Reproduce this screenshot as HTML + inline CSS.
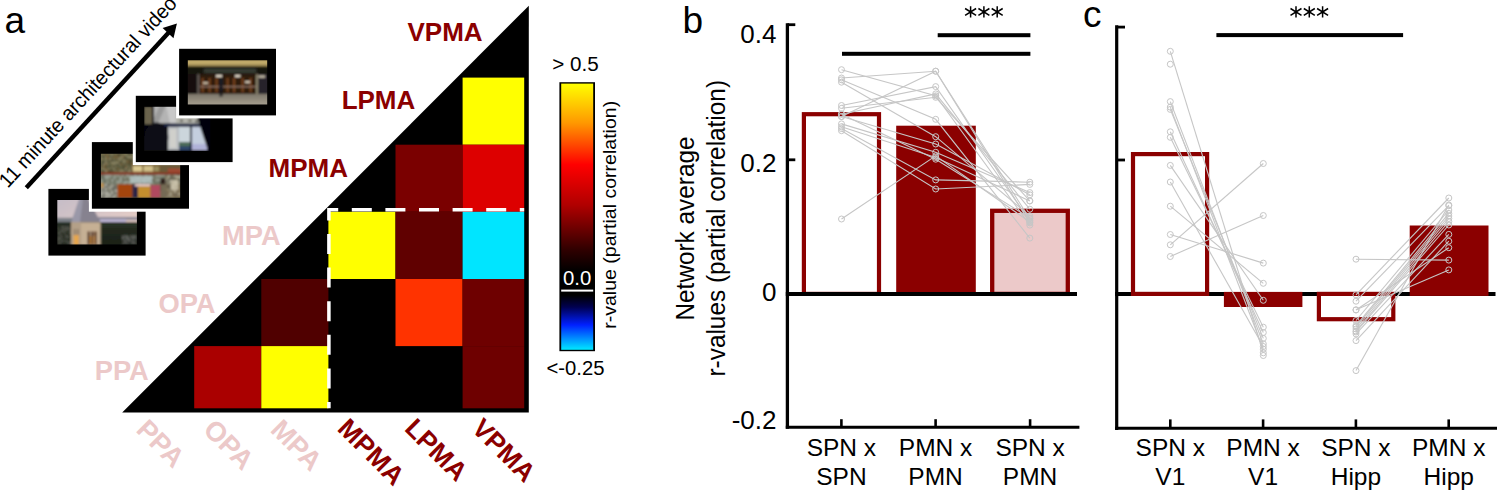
<!DOCTYPE html><html><head><meta charset="utf-8"><title>Figure</title>
<style>html,body{margin:0;padding:0;background:#fff;overflow:hidden;}svg{display:block;position:absolute;left:0;top:0;}text{font-family:"Liberation Sans",sans-serif;}</style>
</head><body>
<svg width="1497" height="490" viewBox="0 0 1497 490">
<defs>
<linearGradient id="cb" x1="0" y1="0" x2="0" y2="1">
<stop offset="0.0000" stop-color="#ffff00"/><stop offset="0.1480" stop-color="#ff9800"/><stop offset="0.3041" stop-color="#ff0000"/><stop offset="0.4565" stop-color="#b00000"/><stop offset="0.6238" stop-color="#300000"/><stop offset="0.7056" stop-color="#000000"/><stop offset="0.7948" stop-color="#000000"/><stop offset="0.8394" stop-color="#000050"/><stop offset="0.9063" stop-color="#0020ff"/><stop offset="0.9584" stop-color="#0090ff"/><stop offset="1.0000" stop-color="#00e8ff"/>
</linearGradient>
<linearGradient id="sky" x1="0" y1="0" x2="0" y2="1"><stop offset="0" stop-color="#cdc3cf"/><stop offset="1" stop-color="#ecc9b6"/></linearGradient>
<clipPath id="tri"><polygon points="122.2,412.6 528.8,412.6 528.8,5.8"/></clipPath>
</defs>
<rect width="1497" height="490" fill="#fff"/>
<g id="matrix">
<polygon points="122.2,412.6 528.8,412.6 528.8,5.8" fill="#000"/>
<g clip-path="url(#tri)">
<rect x="462.6" y="77.6" width="61.60" height="67.10" fill="#ffff00"/>
<rect x="395.5" y="144.7" width="67.10" height="67.10" fill="#7a0000"/>
<rect x="462.6" y="144.7" width="61.60" height="67.10" fill="#dd0000"/>
<rect x="328.4" y="211.8" width="67.10" height="67.20" fill="#ffff00"/>
<rect x="395.5" y="211.8" width="67.10" height="67.20" fill="#600000"/>
<rect x="462.6" y="211.8" width="61.60" height="67.20" fill="#00e5ff"/>
<rect x="261.3" y="279.0" width="67.10" height="67.10" fill="#500000"/>
<rect x="395.5" y="279.0" width="67.10" height="67.10" fill="#ff3300"/>
<rect x="462.6" y="279.0" width="61.60" height="67.10" fill="#6e0000"/>
<rect x="194.2" y="346.1" width="67.10" height="62.20" fill="#aa0000"/>
<rect x="261.3" y="346.1" width="67.10" height="62.20" fill="#ffff00"/>
<rect x="462.6" y="346.1" width="61.60" height="62.20" fill="#6e0000"/>
</g>
<polyline points="328.9,408.3 328.9,209.7 524.2,209.7" fill="none" stroke="#fff" stroke-width="3.5" stroke-dasharray="20,13.6" stroke-dashoffset="13.7" stroke-linejoin="miter"/>
</g>
<text x="482.6" y="41.1" font-size="26" font-weight="bold" fill="#8b0000" text-anchor="end">VPMA</text>
<text x="415.3" y="108.9" font-size="26" font-weight="bold" fill="#8b0000" text-anchor="end">LPMA</text>
<text x="348.0" y="176.7" font-size="26" font-weight="bold" fill="#8b0000" text-anchor="end">MPMA</text>
<text x="280.7" y="244.8" font-size="27.3" font-weight="bold" fill="#ecc9c9" text-anchor="end">MPA</text>
<text x="215.6" y="312.6" font-size="27.3" font-weight="bold" fill="#ecc9c9" text-anchor="end">OPA</text>
<text x="148.8" y="380.4" font-size="27.3" font-weight="bold" fill="#ecc9c9" text-anchor="end">PPA</text>
<text transform="translate(135.0,431.0) rotate(45)" font-size="27.3" font-weight="bold" fill="#ecc9c9">PPA</text>
<text transform="translate(202.1,431.0) rotate(45)" font-size="27.3" font-weight="bold" fill="#ecc9c9">OPA</text>
<text transform="translate(269.2,431.0) rotate(45)" font-size="27.3" font-weight="bold" fill="#ecc9c9">MPA</text>
<text transform="translate(336.3,429.7) rotate(45)" font-size="26.5" font-weight="bold" fill="#8b0000">MPMA</text>
<text transform="translate(403.4,429.7) rotate(45)" font-size="26.5" font-weight="bold" fill="#8b0000">LPMA</text>
<text transform="translate(470.5,429.7) rotate(45)" font-size="26.5" font-weight="bold" fill="#8b0000">VPMA</text>
<rect x="559.4" y="82.2" width="35.6" height="269" fill="#000"/>
<rect x="561.2" y="83.6" width="32" height="266.2" fill="url(#cb)"/>
<rect x="561.2" y="289.6" width="32" height="2" fill="#fff"/>
<text x="577.2" y="284.6" font-size="19.5" fill="#fff" text-anchor="middle" textLength="28.3" lengthAdjust="spacingAndGlyphs">0.0</text>
<text x="575.5" y="71.2" font-size="19.5" fill="#000" text-anchor="middle" textLength="46.5" lengthAdjust="spacingAndGlyphs">&gt; 0.5</text>
<text x="575.5" y="375.4" font-size="19.5" fill="#000" text-anchor="middle" textLength="58" lengthAdjust="spacingAndGlyphs">&lt;-0.25</text>
<text transform="translate(615.5,328.8) rotate(-90)" font-size="19" fill="#000" textLength="228" lengthAdjust="spacingAndGlyphs">r-value (partial correlation)</text>
<text x="4.5" y="32.5" font-size="37" fill="#000">a</text>
<text x="682.5" y="32.5" font-size="37" fill="#000">b</text>
<text x="1083" y="27.3" font-size="37" fill="#000">c</text>
<line x1="26.3" y1="187.7" x2="169.4" y2="31.7" stroke="#000" stroke-width="4.4"/>
<polygon points="176.9,23.6 173.5,38.2 162.6,28.1" fill="#000"/>
<text transform="translate(7.7,188.8) rotate(-47.3)" font-size="20.5" fill="#000" textLength="251" lengthAdjust="spacingAndGlyphs">11 minute architectural video</text>
<defs><filter id="bl" x="-5%" y="-5%" width="110%" height="110%"><feGaussianBlur stdDeviation="0.8"/></filter>
<clipPath id="c1"><rect x="57.3" y="200.1" width="79.6" height="44.3"/></clipPath>
<clipPath id="c2"><rect x="100.9" y="153.8" width="79.3" height="44"/></clipPath>
<clipPath id="c3"><rect x="144.2" y="106.8" width="66" height="44.2"/></clipPath>
<clipPath id="c4"><rect x="187.8" y="60.2" width="79.4" height="44.3"/></clipPath>
<linearGradient id="sky2" x1="0" y1="0" x2="1" y2="1"><stop offset="0" stop-color="#c4bcc8"/><stop offset="0.6" stop-color="#e0cac6"/><stop offset="1" stop-color="#eed2c0"/></linearGradient>
<linearGradient id="beam" x1="0" y1="0" x2="0" y2="1"><stop offset="0" stop-color="#7c6a3a"/><stop offset="0.45" stop-color="#d0b874"/><stop offset="1" stop-color="#8e7c48"/></linearGradient>
<linearGradient id="floor" x1="0" y1="0" x2="0" y2="1"><stop offset="0" stop-color="#7c766a"/><stop offset="1" stop-color="#aaa292"/></linearGradient>
<linearGradient id="land" x1="0" y1="0" x2="0" y2="1"><stop offset="0" stop-color="#262e22"/><stop offset="1" stop-color="#181e16"/></linearGradient>
</defs>
<g id="t1"><rect x="45.4" y="185.9" width="103.2" height="72.7" fill="#fff"/><rect x="48.4" y="188.9" width="97.2" height="66.7" fill="#000"/>
<g clip-path="url(#c1)"><g filter="url(#bl)">
<rect x="55" y="198" width="84" height="49" fill="url(#sky2)"/>
<rect x="55" y="217.8" width="45" height="5" fill="#7c8088"/>
<rect x="95" y="217" width="44" height="3" fill="#8a8898"/>
<rect x="100" y="219.5" width="26" height="4.8" fill="#c2bada"/>
<rect x="55" y="222" width="84" height="25" fill="url(#land)"/>
<rect x="100" y="224.3" width="39" height="3" fill="#2a3226"/>
<rect x="57.3" y="226.0" width="2.0" height="2.0" fill="#3c4038" opacity="0.7"/><rect x="59.3" y="226.0" width="2.0" height="2.0" fill="#2a3024" opacity="0.7"/><rect x="61.3" y="226.0" width="2.0" height="2.0" fill="#666660" opacity="0.7"/><rect x="63.3" y="226.0" width="2.0" height="2.0" fill="#55554e" opacity="0.7"/><rect x="65.3" y="226.0" width="2.0" height="2.0" fill="#55554e" opacity="0.7"/><rect x="67.3" y="226.0" width="2.0" height="2.0" fill="#55554e" opacity="0.7"/><rect x="69.3" y="226.0" width="1.7" height="2.0" fill="#3c4038" opacity="0.7"/><rect x="57.3" y="228.0" width="2.0" height="2.0" fill="#55554e" opacity="0.7"/><rect x="59.3" y="228.0" width="2.0" height="2.0" fill="#2a3024" opacity="0.7"/><rect x="61.3" y="228.0" width="2.0" height="2.0" fill="#55554e" opacity="0.7"/><rect x="63.3" y="228.0" width="2.0" height="2.0" fill="#55554e" opacity="0.7"/><rect x="65.3" y="228.0" width="2.0" height="2.0" fill="#666660" opacity="0.7"/><rect x="67.3" y="228.0" width="2.0" height="2.0" fill="#666660" opacity="0.7"/><rect x="69.3" y="228.0" width="1.7" height="2.0" fill="#55554e" opacity="0.7"/><rect x="57.3" y="230.0" width="2.0" height="2.0" fill="#2a3024" opacity="0.7"/><rect x="59.3" y="230.0" width="2.0" height="2.0" fill="#55554e" opacity="0.7"/><rect x="61.3" y="230.0" width="2.0" height="2.0" fill="#666660" opacity="0.7"/><rect x="63.3" y="230.0" width="2.0" height="2.0" fill="#55554e" opacity="0.7"/><rect x="65.3" y="230.0" width="2.0" height="2.0" fill="#55554e" opacity="0.7"/><rect x="67.3" y="230.0" width="2.0" height="2.0" fill="#2a3024" opacity="0.7"/><rect x="69.3" y="230.0" width="1.7" height="2.0" fill="#55554e" opacity="0.7"/><rect x="57.3" y="232.0" width="2.0" height="2.0" fill="#666660" opacity="0.7"/><rect x="59.3" y="232.0" width="2.0" height="2.0" fill="#55554e" opacity="0.7"/><rect x="61.3" y="232.0" width="2.0" height="2.0" fill="#2a3024" opacity="0.7"/><rect x="63.3" y="232.0" width="2.0" height="2.0" fill="#55554e" opacity="0.7"/><rect x="65.3" y="232.0" width="2.0" height="2.0" fill="#2a3024" opacity="0.7"/><rect x="67.3" y="232.0" width="2.0" height="2.0" fill="#3c4038" opacity="0.7"/><rect x="69.3" y="232.0" width="1.7" height="2.0" fill="#666660" opacity="0.7"/><rect x="57.3" y="234.0" width="2.0" height="2.0" fill="#2a3024" opacity="0.7"/><rect x="59.3" y="234.0" width="2.0" height="2.0" fill="#55554e" opacity="0.7"/><rect x="61.3" y="234.0" width="2.0" height="2.0" fill="#3c4038" opacity="0.7"/><rect x="63.3" y="234.0" width="2.0" height="2.0" fill="#2a3024" opacity="0.7"/><rect x="65.3" y="234.0" width="2.0" height="2.0" fill="#55554e" opacity="0.7"/><rect x="67.3" y="234.0" width="2.0" height="2.0" fill="#2a3024" opacity="0.7"/><rect x="69.3" y="234.0" width="1.7" height="2.0" fill="#3c4038" opacity="0.7"/><rect x="57.3" y="236.0" width="2.0" height="2.0" fill="#55554e" opacity="0.7"/><rect x="59.3" y="236.0" width="2.0" height="2.0" fill="#55554e" opacity="0.7"/><rect x="61.3" y="236.0" width="2.0" height="2.0" fill="#55554e" opacity="0.7"/><rect x="63.3" y="236.0" width="2.0" height="2.0" fill="#2a3024" opacity="0.7"/><rect x="65.3" y="236.0" width="2.0" height="2.0" fill="#666660" opacity="0.7"/><rect x="67.3" y="236.0" width="2.0" height="2.0" fill="#666660" opacity="0.7"/><rect x="69.3" y="236.0" width="1.7" height="2.0" fill="#3c4038" opacity="0.7"/><rect x="57.3" y="238.0" width="2.0" height="2.0" fill="#666660" opacity="0.7"/><rect x="59.3" y="238.0" width="2.0" height="2.0" fill="#666660" opacity="0.7"/><rect x="61.3" y="238.0" width="2.0" height="2.0" fill="#3c4038" opacity="0.7"/><rect x="63.3" y="238.0" width="2.0" height="2.0" fill="#3c4038" opacity="0.7"/><rect x="65.3" y="238.0" width="2.0" height="2.0" fill="#2a3024" opacity="0.7"/><rect x="67.3" y="238.0" width="2.0" height="2.0" fill="#2a3024" opacity="0.7"/><rect x="69.3" y="238.0" width="1.7" height="2.0" fill="#2a3024" opacity="0.7"/><rect x="57.3" y="240.0" width="2.0" height="2.0" fill="#55554e" opacity="0.7"/><rect x="59.3" y="240.0" width="2.0" height="2.0" fill="#3c4038" opacity="0.7"/><rect x="61.3" y="240.0" width="2.0" height="2.0" fill="#666660" opacity="0.7"/><rect x="63.3" y="240.0" width="2.0" height="2.0" fill="#3c4038" opacity="0.7"/><rect x="65.3" y="240.0" width="2.0" height="2.0" fill="#666660" opacity="0.7"/><rect x="67.3" y="240.0" width="2.0" height="2.0" fill="#3c4038" opacity="0.7"/><rect x="69.3" y="240.0" width="1.7" height="2.0" fill="#55554e" opacity="0.7"/><rect x="57.3" y="242.0" width="2.0" height="2.0" fill="#55554e" opacity="0.7"/><rect x="59.3" y="242.0" width="2.0" height="2.0" fill="#666660" opacity="0.7"/><rect x="61.3" y="242.0" width="2.0" height="2.0" fill="#2a3024" opacity="0.7"/><rect x="63.3" y="242.0" width="2.0" height="2.0" fill="#3c4038" opacity="0.7"/><rect x="65.3" y="242.0" width="2.0" height="2.0" fill="#2a3024" opacity="0.7"/><rect x="67.3" y="242.0" width="2.0" height="2.0" fill="#666660" opacity="0.7"/><rect x="69.3" y="242.0" width="1.7" height="2.0" fill="#666660" opacity="0.7"/><rect x="57.3" y="244.0" width="2.0" height="0.4" fill="#55554e" opacity="0.7"/><rect x="59.3" y="244.0" width="2.0" height="0.4" fill="#55554e" opacity="0.7"/><rect x="61.3" y="244.0" width="2.0" height="0.4" fill="#3c4038" opacity="0.7"/><rect x="63.3" y="244.0" width="2.0" height="0.4" fill="#3c4038" opacity="0.7"/><rect x="65.3" y="244.0" width="2.0" height="0.4" fill="#3c4038" opacity="0.7"/><rect x="67.3" y="244.0" width="2.0" height="0.4" fill="#666660" opacity="0.7"/><rect x="69.3" y="244.0" width="1.7" height="0.4" fill="#666660" opacity="0.7"/>
<rect x="122.0" y="235.5" width="2.0" height="2.0" fill="#6a6a68" opacity="0.8"/><rect x="124.0" y="235.5" width="2.0" height="2.0" fill="#6a6a68" opacity="0.8"/><rect x="126.0" y="235.5" width="2.0" height="2.0" fill="#7a7a78" opacity="0.8"/><rect x="128.0" y="235.5" width="2.0" height="2.0" fill="#3a3c38" opacity="0.8"/><rect x="130.0" y="235.5" width="2.0" height="2.0" fill="#6a6a68" opacity="0.8"/><rect x="132.0" y="235.5" width="2.0" height="2.0" fill="#6a6a68" opacity="0.8"/><rect x="134.0" y="235.5" width="2.0" height="2.0" fill="#7a7a78" opacity="0.8"/><rect x="136.0" y="235.5" width="1.0" height="2.0" fill="#3a3c38" opacity="0.8"/><rect x="122.0" y="237.5" width="2.0" height="2.0" fill="#7a7a78" opacity="0.8"/><rect x="124.0" y="237.5" width="2.0" height="2.0" fill="#3a3c38" opacity="0.8"/><rect x="126.0" y="237.5" width="2.0" height="2.0" fill="#7a7a78" opacity="0.8"/><rect x="128.0" y="237.5" width="2.0" height="2.0" fill="#6a6a68" opacity="0.8"/><rect x="130.0" y="237.5" width="2.0" height="2.0" fill="#3a3c38" opacity="0.8"/><rect x="132.0" y="237.5" width="2.0" height="2.0" fill="#7a7a78" opacity="0.8"/><rect x="134.0" y="237.5" width="2.0" height="2.0" fill="#4a4c48" opacity="0.8"/><rect x="136.0" y="237.5" width="1.0" height="2.0" fill="#6a6a68" opacity="0.8"/><rect x="122.0" y="239.5" width="2.0" height="2.0" fill="#3a3c38" opacity="0.8"/><rect x="124.0" y="239.5" width="2.0" height="2.0" fill="#6a6a68" opacity="0.8"/><rect x="126.0" y="239.5" width="2.0" height="2.0" fill="#4a4c48" opacity="0.8"/><rect x="128.0" y="239.5" width="2.0" height="2.0" fill="#7a7a78" opacity="0.8"/><rect x="130.0" y="239.5" width="2.0" height="2.0" fill="#4a4c48" opacity="0.8"/><rect x="132.0" y="239.5" width="2.0" height="2.0" fill="#4a4c48" opacity="0.8"/><rect x="134.0" y="239.5" width="2.0" height="2.0" fill="#3a3c38" opacity="0.8"/><rect x="136.0" y="239.5" width="1.0" height="2.0" fill="#3a3c38" opacity="0.8"/><rect x="122.0" y="241.5" width="2.0" height="2.0" fill="#3a3c38" opacity="0.8"/><rect x="124.0" y="241.5" width="2.0" height="2.0" fill="#6a6a68" opacity="0.8"/><rect x="126.0" y="241.5" width="2.0" height="2.0" fill="#4a4c48" opacity="0.8"/><rect x="128.0" y="241.5" width="2.0" height="2.0" fill="#3a3c38" opacity="0.8"/><rect x="130.0" y="241.5" width="2.0" height="2.0" fill="#3a3c38" opacity="0.8"/><rect x="132.0" y="241.5" width="2.0" height="2.0" fill="#7a7a78" opacity="0.8"/><rect x="134.0" y="241.5" width="2.0" height="2.0" fill="#4a4c48" opacity="0.8"/><rect x="136.0" y="241.5" width="1.0" height="2.0" fill="#3a3c38" opacity="0.8"/><rect x="122.0" y="243.5" width="2.0" height="0.9" fill="#7a7a78" opacity="0.8"/><rect x="124.0" y="243.5" width="2.0" height="0.9" fill="#3a3c38" opacity="0.8"/><rect x="126.0" y="243.5" width="2.0" height="0.9" fill="#7a7a78" opacity="0.8"/><rect x="128.0" y="243.5" width="2.0" height="0.9" fill="#3a3c38" opacity="0.8"/><rect x="130.0" y="243.5" width="2.0" height="0.9" fill="#4a4c48" opacity="0.8"/><rect x="132.0" y="243.5" width="2.0" height="0.9" fill="#4a4c48" opacity="0.8"/><rect x="134.0" y="243.5" width="2.0" height="0.9" fill="#6a6a68" opacity="0.8"/><rect x="136.0" y="243.5" width="1.0" height="0.9" fill="#4a4c48" opacity="0.8"/>
<polygon points="79.7,198 87.9,198 100.6,222.3 71.2,222.3" fill="#86828f"/>
<polygon points="79.7,198 83,198 80,222.3 71.2,222.3" fill="#9a98a8"/>
<rect x="71.2" y="222.3" width="29.4" height="23" fill="#c6b094"/>
<rect x="71.2" y="222.3" width="10" height="23" fill="#b4a088"/>
<rect x="73.6" y="235" width="5.2" height="10" fill="#e6a64e"/>
<rect x="74" y="229" width="1.5" height="6" fill="#8a7460"/><rect x="77" y="229" width="1.5" height="6" fill="#8a7460"/>
<rect x="87.6" y="231.5" width="2.3" height="13" fill="#4a2818"/><rect x="91.1" y="231.5" width="2.3" height="13" fill="#4a2818"/><rect x="94.4" y="231.5" width="2.3" height="13" fill="#5a3418"/>
<rect x="89.9" y="236" width="1.2" height="8.4" fill="#e0a050"/><rect x="93.4" y="236" width="1.0" height="8.4" fill="#e0a050"/>
</g></g></g>
<g id="t2"><rect x="88.9" y="139.1" width="103.1" height="72.6" fill="#fff"/><rect x="91.9" y="142.1" width="97.1" height="66.6" fill="#000"/>
<g clip-path="url(#c2)"><g filter="url(#bl)">
<rect x="99" y="152" width="83" height="48" fill="#6e6848"/>
<rect x="100.9" y="153.8" width="2.0" height="2.0" fill="#7c7656" opacity="0.8"/><rect x="102.9" y="153.8" width="2.0" height="2.0" fill="#7c7656" opacity="0.8"/><rect x="104.9" y="153.8" width="2.0" height="2.0" fill="#6e522c" opacity="0.8"/><rect x="106.9" y="153.8" width="2.0" height="2.0" fill="#7c7656" opacity="0.8"/><rect x="108.9" y="153.8" width="2.0" height="2.0" fill="#625c40" opacity="0.8"/><rect x="110.9" y="153.8" width="2.0" height="2.0" fill="#989070" opacity="0.8"/><rect x="112.9" y="153.8" width="2.0" height="2.0" fill="#525840" opacity="0.8"/><rect x="114.9" y="153.8" width="2.0" height="2.0" fill="#7c7656" opacity="0.8"/><rect x="116.9" y="153.8" width="2.0" height="2.0" fill="#44422c" opacity="0.8"/><rect x="118.9" y="153.8" width="2.0" height="2.0" fill="#44422c" opacity="0.8"/><rect x="120.9" y="153.8" width="2.0" height="2.0" fill="#625c40" opacity="0.8"/><rect x="122.9" y="153.8" width="2.0" height="2.0" fill="#7c7656" opacity="0.8"/><rect x="124.9" y="153.8" width="2.0" height="2.0" fill="#989070" opacity="0.8"/><rect x="126.9" y="153.8" width="2.0" height="2.0" fill="#525840" opacity="0.8"/><rect x="128.9" y="153.8" width="2.0" height="2.0" fill="#44422c" opacity="0.8"/><rect x="130.9" y="153.8" width="1.3" height="2.0" fill="#525840" opacity="0.8"/><rect x="100.9" y="155.8" width="2.0" height="2.0" fill="#525840" opacity="0.8"/><rect x="102.9" y="155.8" width="2.0" height="2.0" fill="#44422c" opacity="0.8"/><rect x="104.9" y="155.8" width="2.0" height="2.0" fill="#7c7656" opacity="0.8"/><rect x="106.9" y="155.8" width="2.0" height="2.0" fill="#6e522c" opacity="0.8"/><rect x="108.9" y="155.8" width="2.0" height="2.0" fill="#525840" opacity="0.8"/><rect x="110.9" y="155.8" width="2.0" height="2.0" fill="#525840" opacity="0.8"/><rect x="112.9" y="155.8" width="2.0" height="2.0" fill="#6e522c" opacity="0.8"/><rect x="114.9" y="155.8" width="2.0" height="2.0" fill="#6e522c" opacity="0.8"/><rect x="116.9" y="155.8" width="2.0" height="2.0" fill="#6e522c" opacity="0.8"/><rect x="118.9" y="155.8" width="2.0" height="2.0" fill="#625c40" opacity="0.8"/><rect x="120.9" y="155.8" width="2.0" height="2.0" fill="#989070" opacity="0.8"/><rect x="122.9" y="155.8" width="2.0" height="2.0" fill="#6e522c" opacity="0.8"/><rect x="124.9" y="155.8" width="2.0" height="2.0" fill="#525840" opacity="0.8"/><rect x="126.9" y="155.8" width="2.0" height="2.0" fill="#989070" opacity="0.8"/><rect x="128.9" y="155.8" width="2.0" height="2.0" fill="#989070" opacity="0.8"/><rect x="130.9" y="155.8" width="1.3" height="2.0" fill="#989070" opacity="0.8"/><rect x="100.9" y="157.8" width="2.0" height="2.0" fill="#989070" opacity="0.8"/><rect x="102.9" y="157.8" width="2.0" height="2.0" fill="#625c40" opacity="0.8"/><rect x="104.9" y="157.8" width="2.0" height="2.0" fill="#989070" opacity="0.8"/><rect x="106.9" y="157.8" width="2.0" height="2.0" fill="#6e522c" opacity="0.8"/><rect x="108.9" y="157.8" width="2.0" height="2.0" fill="#989070" opacity="0.8"/><rect x="110.9" y="157.8" width="2.0" height="2.0" fill="#625c40" opacity="0.8"/><rect x="112.9" y="157.8" width="2.0" height="2.0" fill="#7c7656" opacity="0.8"/><rect x="114.9" y="157.8" width="2.0" height="2.0" fill="#625c40" opacity="0.8"/><rect x="116.9" y="157.8" width="2.0" height="2.0" fill="#7c7656" opacity="0.8"/><rect x="118.9" y="157.8" width="2.0" height="2.0" fill="#989070" opacity="0.8"/><rect x="120.9" y="157.8" width="2.0" height="2.0" fill="#7c7656" opacity="0.8"/><rect x="122.9" y="157.8" width="2.0" height="2.0" fill="#625c40" opacity="0.8"/><rect x="124.9" y="157.8" width="2.0" height="2.0" fill="#44422c" opacity="0.8"/><rect x="126.9" y="157.8" width="2.0" height="2.0" fill="#525840" opacity="0.8"/><rect x="128.9" y="157.8" width="2.0" height="2.0" fill="#625c40" opacity="0.8"/><rect x="130.9" y="157.8" width="1.3" height="2.0" fill="#625c40" opacity="0.8"/><rect x="100.9" y="159.8" width="2.0" height="2.0" fill="#625c40" opacity="0.8"/><rect x="102.9" y="159.8" width="2.0" height="2.0" fill="#525840" opacity="0.8"/><rect x="104.9" y="159.8" width="2.0" height="2.0" fill="#7c7656" opacity="0.8"/><rect x="106.9" y="159.8" width="2.0" height="2.0" fill="#525840" opacity="0.8"/><rect x="108.9" y="159.8" width="2.0" height="2.0" fill="#625c40" opacity="0.8"/><rect x="110.9" y="159.8" width="2.0" height="2.0" fill="#44422c" opacity="0.8"/><rect x="112.9" y="159.8" width="2.0" height="2.0" fill="#525840" opacity="0.8"/><rect x="114.9" y="159.8" width="2.0" height="2.0" fill="#625c40" opacity="0.8"/><rect x="116.9" y="159.8" width="2.0" height="2.0" fill="#625c40" opacity="0.8"/><rect x="118.9" y="159.8" width="2.0" height="2.0" fill="#7c7656" opacity="0.8"/><rect x="120.9" y="159.8" width="2.0" height="2.0" fill="#525840" opacity="0.8"/><rect x="122.9" y="159.8" width="2.0" height="2.0" fill="#989070" opacity="0.8"/><rect x="124.9" y="159.8" width="2.0" height="2.0" fill="#7c7656" opacity="0.8"/><rect x="126.9" y="159.8" width="2.0" height="2.0" fill="#6e522c" opacity="0.8"/><rect x="128.9" y="159.8" width="2.0" height="2.0" fill="#44422c" opacity="0.8"/><rect x="130.9" y="159.8" width="1.3" height="2.0" fill="#44422c" opacity="0.8"/><rect x="100.9" y="161.8" width="2.0" height="2.0" fill="#525840" opacity="0.8"/><rect x="102.9" y="161.8" width="2.0" height="2.0" fill="#44422c" opacity="0.8"/><rect x="104.9" y="161.8" width="2.0" height="2.0" fill="#989070" opacity="0.8"/><rect x="106.9" y="161.8" width="2.0" height="2.0" fill="#625c40" opacity="0.8"/><rect x="108.9" y="161.8" width="2.0" height="2.0" fill="#625c40" opacity="0.8"/><rect x="110.9" y="161.8" width="2.0" height="2.0" fill="#989070" opacity="0.8"/><rect x="112.9" y="161.8" width="2.0" height="2.0" fill="#989070" opacity="0.8"/><rect x="114.9" y="161.8" width="2.0" height="2.0" fill="#989070" opacity="0.8"/><rect x="116.9" y="161.8" width="2.0" height="2.0" fill="#989070" opacity="0.8"/><rect x="118.9" y="161.8" width="2.0" height="2.0" fill="#44422c" opacity="0.8"/><rect x="120.9" y="161.8" width="2.0" height="2.0" fill="#625c40" opacity="0.8"/><rect x="122.9" y="161.8" width="2.0" height="2.0" fill="#7c7656" opacity="0.8"/><rect x="124.9" y="161.8" width="2.0" height="2.0" fill="#625c40" opacity="0.8"/><rect x="126.9" y="161.8" width="2.0" height="2.0" fill="#6e522c" opacity="0.8"/><rect x="128.9" y="161.8" width="2.0" height="2.0" fill="#44422c" opacity="0.8"/><rect x="130.9" y="161.8" width="1.3" height="2.0" fill="#6e522c" opacity="0.8"/><rect x="100.9" y="163.8" width="2.0" height="2.0" fill="#44422c" opacity="0.8"/><rect x="102.9" y="163.8" width="2.0" height="2.0" fill="#989070" opacity="0.8"/><rect x="104.9" y="163.8" width="2.0" height="2.0" fill="#6e522c" opacity="0.8"/><rect x="106.9" y="163.8" width="2.0" height="2.0" fill="#7c7656" opacity="0.8"/><rect x="108.9" y="163.8" width="2.0" height="2.0" fill="#525840" opacity="0.8"/><rect x="110.9" y="163.8" width="2.0" height="2.0" fill="#625c40" opacity="0.8"/><rect x="112.9" y="163.8" width="2.0" height="2.0" fill="#7c7656" opacity="0.8"/><rect x="114.9" y="163.8" width="2.0" height="2.0" fill="#525840" opacity="0.8"/><rect x="116.9" y="163.8" width="2.0" height="2.0" fill="#44422c" opacity="0.8"/><rect x="118.9" y="163.8" width="2.0" height="2.0" fill="#7c7656" opacity="0.8"/><rect x="120.9" y="163.8" width="2.0" height="2.0" fill="#6e522c" opacity="0.8"/><rect x="122.9" y="163.8" width="2.0" height="2.0" fill="#525840" opacity="0.8"/><rect x="124.9" y="163.8" width="2.0" height="2.0" fill="#625c40" opacity="0.8"/><rect x="126.9" y="163.8" width="2.0" height="2.0" fill="#525840" opacity="0.8"/><rect x="128.9" y="163.8" width="2.0" height="2.0" fill="#44422c" opacity="0.8"/><rect x="130.9" y="163.8" width="1.3" height="2.0" fill="#6e522c" opacity="0.8"/><rect x="100.9" y="165.8" width="2.0" height="2.0" fill="#625c40" opacity="0.8"/><rect x="102.9" y="165.8" width="2.0" height="2.0" fill="#6e522c" opacity="0.8"/><rect x="104.9" y="165.8" width="2.0" height="2.0" fill="#44422c" opacity="0.8"/><rect x="106.9" y="165.8" width="2.0" height="2.0" fill="#525840" opacity="0.8"/><rect x="108.9" y="165.8" width="2.0" height="2.0" fill="#44422c" opacity="0.8"/><rect x="110.9" y="165.8" width="2.0" height="2.0" fill="#7c7656" opacity="0.8"/><rect x="112.9" y="165.8" width="2.0" height="2.0" fill="#44422c" opacity="0.8"/><rect x="114.9" y="165.8" width="2.0" height="2.0" fill="#7c7656" opacity="0.8"/><rect x="116.9" y="165.8" width="2.0" height="2.0" fill="#525840" opacity="0.8"/><rect x="118.9" y="165.8" width="2.0" height="2.0" fill="#525840" opacity="0.8"/><rect x="120.9" y="165.8" width="2.0" height="2.0" fill="#525840" opacity="0.8"/><rect x="122.9" y="165.8" width="2.0" height="2.0" fill="#44422c" opacity="0.8"/><rect x="124.9" y="165.8" width="2.0" height="2.0" fill="#6e522c" opacity="0.8"/><rect x="126.9" y="165.8" width="2.0" height="2.0" fill="#7c7656" opacity="0.8"/><rect x="128.9" y="165.8" width="2.0" height="2.0" fill="#525840" opacity="0.8"/><rect x="130.9" y="165.8" width="1.3" height="2.0" fill="#7c7656" opacity="0.8"/><rect x="100.9" y="167.8" width="2.0" height="2.0" fill="#7c7656" opacity="0.8"/><rect x="102.9" y="167.8" width="2.0" height="2.0" fill="#989070" opacity="0.8"/><rect x="104.9" y="167.8" width="2.0" height="2.0" fill="#6e522c" opacity="0.8"/><rect x="106.9" y="167.8" width="2.0" height="2.0" fill="#7c7656" opacity="0.8"/><rect x="108.9" y="167.8" width="2.0" height="2.0" fill="#7c7656" opacity="0.8"/><rect x="110.9" y="167.8" width="2.0" height="2.0" fill="#525840" opacity="0.8"/><rect x="112.9" y="167.8" width="2.0" height="2.0" fill="#989070" opacity="0.8"/><rect x="114.9" y="167.8" width="2.0" height="2.0" fill="#44422c" opacity="0.8"/><rect x="116.9" y="167.8" width="2.0" height="2.0" fill="#6e522c" opacity="0.8"/><rect x="118.9" y="167.8" width="2.0" height="2.0" fill="#625c40" opacity="0.8"/><rect x="120.9" y="167.8" width="2.0" height="2.0" fill="#625c40" opacity="0.8"/><rect x="122.9" y="167.8" width="2.0" height="2.0" fill="#44422c" opacity="0.8"/><rect x="124.9" y="167.8" width="2.0" height="2.0" fill="#989070" opacity="0.8"/><rect x="126.9" y="167.8" width="2.0" height="2.0" fill="#44422c" opacity="0.8"/><rect x="128.9" y="167.8" width="2.0" height="2.0" fill="#7c7656" opacity="0.8"/><rect x="130.9" y="167.8" width="1.3" height="2.0" fill="#6e522c" opacity="0.8"/><rect x="100.9" y="169.8" width="2.0" height="2.0" fill="#525840" opacity="0.8"/><rect x="102.9" y="169.8" width="2.0" height="2.0" fill="#44422c" opacity="0.8"/><rect x="104.9" y="169.8" width="2.0" height="2.0" fill="#989070" opacity="0.8"/><rect x="106.9" y="169.8" width="2.0" height="2.0" fill="#6e522c" opacity="0.8"/><rect x="108.9" y="169.8" width="2.0" height="2.0" fill="#44422c" opacity="0.8"/><rect x="110.9" y="169.8" width="2.0" height="2.0" fill="#44422c" opacity="0.8"/><rect x="112.9" y="169.8" width="2.0" height="2.0" fill="#625c40" opacity="0.8"/><rect x="114.9" y="169.8" width="2.0" height="2.0" fill="#7c7656" opacity="0.8"/><rect x="116.9" y="169.8" width="2.0" height="2.0" fill="#625c40" opacity="0.8"/><rect x="118.9" y="169.8" width="2.0" height="2.0" fill="#7c7656" opacity="0.8"/><rect x="120.9" y="169.8" width="2.0" height="2.0" fill="#989070" opacity="0.8"/><rect x="122.9" y="169.8" width="2.0" height="2.0" fill="#7c7656" opacity="0.8"/><rect x="124.9" y="169.8" width="2.0" height="2.0" fill="#44422c" opacity="0.8"/><rect x="126.9" y="169.8" width="2.0" height="2.0" fill="#7c7656" opacity="0.8"/><rect x="128.9" y="169.8" width="2.0" height="2.0" fill="#989070" opacity="0.8"/><rect x="130.9" y="169.8" width="1.3" height="2.0" fill="#525840" opacity="0.8"/><rect x="100.9" y="171.8" width="2.0" height="0.7" fill="#525840" opacity="0.8"/><rect x="102.9" y="171.8" width="2.0" height="0.7" fill="#625c40" opacity="0.8"/><rect x="104.9" y="171.8" width="2.0" height="0.7" fill="#989070" opacity="0.8"/><rect x="106.9" y="171.8" width="2.0" height="0.7" fill="#6e522c" opacity="0.8"/><rect x="108.9" y="171.8" width="2.0" height="0.7" fill="#44422c" opacity="0.8"/><rect x="110.9" y="171.8" width="2.0" height="0.7" fill="#6e522c" opacity="0.8"/><rect x="112.9" y="171.8" width="2.0" height="0.7" fill="#625c40" opacity="0.8"/><rect x="114.9" y="171.8" width="2.0" height="0.7" fill="#6e522c" opacity="0.8"/><rect x="116.9" y="171.8" width="2.0" height="0.7" fill="#625c40" opacity="0.8"/><rect x="118.9" y="171.8" width="2.0" height="0.7" fill="#989070" opacity="0.8"/><rect x="120.9" y="171.8" width="2.0" height="0.7" fill="#6e522c" opacity="0.8"/><rect x="122.9" y="171.8" width="2.0" height="0.7" fill="#7c7656" opacity="0.8"/><rect x="124.9" y="171.8" width="2.0" height="0.7" fill="#989070" opacity="0.8"/><rect x="126.9" y="171.8" width="2.0" height="0.7" fill="#7c7656" opacity="0.8"/><rect x="128.9" y="171.8" width="2.0" height="0.7" fill="#989070" opacity="0.8"/><rect x="130.9" y="171.8" width="1.3" height="0.7" fill="#6e522c" opacity="0.8"/>
<rect x="132.2" y="164" width="48" height="8.5" fill="#7a6034"/>
<rect x="133" y="166" width="9" height="5.6" fill="#dccb92"/><rect x="143.5" y="166" width="9.5" height="5.6" fill="#d0c08a"/><rect x="154" y="166.5" width="5" height="4.6" fill="#9a9060"/>
<rect x="160" y="164" width="21" height="8.5" fill="#6a5a38"/>
<rect x="168" y="168.5" width="13" height="4" fill="#a04a30"/>
<rect x="99" y="172.5" width="83" height="2.3" fill="#8a2c1c"/>
<rect x="99" y="174.8" width="83" height="9.4" fill="#7c8272"/>
<rect x="100.9" y="174.8" width="2.1" height="2.1" fill="#5c6454" opacity="0.7"/><rect x="103.0" y="174.8" width="2.1" height="2.1" fill="#7c8272" opacity="0.7"/><rect x="105.1" y="174.8" width="2.1" height="2.1" fill="#a8b0a8" opacity="0.7"/><rect x="107.2" y="174.8" width="2.1" height="2.1" fill="#a8b0a8" opacity="0.7"/><rect x="109.3" y="174.8" width="2.1" height="2.1" fill="#a8b0a8" opacity="0.7"/><rect x="111.4" y="174.8" width="2.1" height="2.1" fill="#7c8272" opacity="0.7"/><rect x="113.5" y="174.8" width="2.1" height="2.1" fill="#98a090" opacity="0.7"/><rect x="115.6" y="174.8" width="2.1" height="2.1" fill="#98a090" opacity="0.7"/><rect x="117.7" y="174.8" width="2.1" height="2.1" fill="#98a090" opacity="0.7"/><rect x="119.8" y="174.8" width="2.1" height="2.1" fill="#7c8272" opacity="0.7"/><rect x="121.9" y="174.8" width="2.1" height="2.1" fill="#98a090" opacity="0.7"/><rect x="124.0" y="174.8" width="2.1" height="2.1" fill="#6a6a58" opacity="0.7"/><rect x="126.1" y="174.8" width="2.1" height="2.1" fill="#a8b0a8" opacity="0.7"/><rect x="128.2" y="174.8" width="2.1" height="2.1" fill="#98a090" opacity="0.7"/><rect x="130.3" y="174.8" width="2.1" height="2.1" fill="#6a6a58" opacity="0.7"/><rect x="132.4" y="174.8" width="2.1" height="2.1" fill="#6a6a58" opacity="0.7"/><rect x="134.5" y="174.8" width="2.1" height="2.1" fill="#a8b0a8" opacity="0.7"/><rect x="136.6" y="174.8" width="2.1" height="2.1" fill="#5c6454" opacity="0.7"/><rect x="138.7" y="174.8" width="2.1" height="2.1" fill="#98a090" opacity="0.7"/><rect x="140.8" y="174.8" width="2.1" height="2.1" fill="#6a6a58" opacity="0.7"/><rect x="142.9" y="174.8" width="2.1" height="2.1" fill="#6a6a58" opacity="0.7"/><rect x="145.0" y="174.8" width="2.1" height="2.1" fill="#98a090" opacity="0.7"/><rect x="147.1" y="174.8" width="2.1" height="2.1" fill="#7c8272" opacity="0.7"/><rect x="149.2" y="174.8" width="2.1" height="2.1" fill="#7c8272" opacity="0.7"/><rect x="151.3" y="174.8" width="2.1" height="2.1" fill="#7c8272" opacity="0.7"/><rect x="153.4" y="174.8" width="2.1" height="2.1" fill="#6a6a58" opacity="0.7"/><rect x="155.5" y="174.8" width="2.1" height="2.1" fill="#98a090" opacity="0.7"/><rect x="157.6" y="174.8" width="2.1" height="2.1" fill="#a8b0a8" opacity="0.7"/><rect x="159.7" y="174.8" width="2.1" height="2.1" fill="#98a090" opacity="0.7"/><rect x="161.8" y="174.8" width="2.1" height="2.1" fill="#98a090" opacity="0.7"/><rect x="163.9" y="174.8" width="2.1" height="2.1" fill="#7c8272" opacity="0.7"/><rect x="166.0" y="174.8" width="2.1" height="2.1" fill="#5c6454" opacity="0.7"/><rect x="168.1" y="174.8" width="2.1" height="2.1" fill="#98a090" opacity="0.7"/><rect x="170.2" y="174.8" width="2.1" height="2.1" fill="#5c6454" opacity="0.7"/><rect x="172.3" y="174.8" width="2.1" height="2.1" fill="#6a6a58" opacity="0.7"/><rect x="174.4" y="174.8" width="2.1" height="2.1" fill="#98a090" opacity="0.7"/><rect x="176.5" y="174.8" width="2.1" height="2.1" fill="#6a6a58" opacity="0.7"/><rect x="178.6" y="174.8" width="1.6" height="2.1" fill="#5c6454" opacity="0.7"/><rect x="100.9" y="176.9" width="2.1" height="2.1" fill="#5c6454" opacity="0.7"/><rect x="103.0" y="176.9" width="2.1" height="2.1" fill="#6a6a58" opacity="0.7"/><rect x="105.1" y="176.9" width="2.1" height="2.1" fill="#a8b0a8" opacity="0.7"/><rect x="107.2" y="176.9" width="2.1" height="2.1" fill="#98a090" opacity="0.7"/><rect x="109.3" y="176.9" width="2.1" height="2.1" fill="#7c8272" opacity="0.7"/><rect x="111.4" y="176.9" width="2.1" height="2.1" fill="#5c6454" opacity="0.7"/><rect x="113.5" y="176.9" width="2.1" height="2.1" fill="#a8b0a8" opacity="0.7"/><rect x="115.6" y="176.9" width="2.1" height="2.1" fill="#6a6a58" opacity="0.7"/><rect x="117.7" y="176.9" width="2.1" height="2.1" fill="#6a6a58" opacity="0.7"/><rect x="119.8" y="176.9" width="2.1" height="2.1" fill="#a8b0a8" opacity="0.7"/><rect x="121.9" y="176.9" width="2.1" height="2.1" fill="#6a6a58" opacity="0.7"/><rect x="124.0" y="176.9" width="2.1" height="2.1" fill="#98a090" opacity="0.7"/><rect x="126.1" y="176.9" width="2.1" height="2.1" fill="#6a6a58" opacity="0.7"/><rect x="128.2" y="176.9" width="2.1" height="2.1" fill="#98a090" opacity="0.7"/><rect x="130.3" y="176.9" width="2.1" height="2.1" fill="#6a6a58" opacity="0.7"/><rect x="132.4" y="176.9" width="2.1" height="2.1" fill="#6a6a58" opacity="0.7"/><rect x="134.5" y="176.9" width="2.1" height="2.1" fill="#7c8272" opacity="0.7"/><rect x="136.6" y="176.9" width="2.1" height="2.1" fill="#a8b0a8" opacity="0.7"/><rect x="138.7" y="176.9" width="2.1" height="2.1" fill="#98a090" opacity="0.7"/><rect x="140.8" y="176.9" width="2.1" height="2.1" fill="#6a6a58" opacity="0.7"/><rect x="142.9" y="176.9" width="2.1" height="2.1" fill="#7c8272" opacity="0.7"/><rect x="145.0" y="176.9" width="2.1" height="2.1" fill="#98a090" opacity="0.7"/><rect x="147.1" y="176.9" width="2.1" height="2.1" fill="#98a090" opacity="0.7"/><rect x="149.2" y="176.9" width="2.1" height="2.1" fill="#98a090" opacity="0.7"/><rect x="151.3" y="176.9" width="2.1" height="2.1" fill="#a8b0a8" opacity="0.7"/><rect x="153.4" y="176.9" width="2.1" height="2.1" fill="#6a6a58" opacity="0.7"/><rect x="155.5" y="176.9" width="2.1" height="2.1" fill="#7c8272" opacity="0.7"/><rect x="157.6" y="176.9" width="2.1" height="2.1" fill="#6a6a58" opacity="0.7"/><rect x="159.7" y="176.9" width="2.1" height="2.1" fill="#7c8272" opacity="0.7"/><rect x="161.8" y="176.9" width="2.1" height="2.1" fill="#5c6454" opacity="0.7"/><rect x="163.9" y="176.9" width="2.1" height="2.1" fill="#6a6a58" opacity="0.7"/><rect x="166.0" y="176.9" width="2.1" height="2.1" fill="#6a6a58" opacity="0.7"/><rect x="168.1" y="176.9" width="2.1" height="2.1" fill="#6a6a58" opacity="0.7"/><rect x="170.2" y="176.9" width="2.1" height="2.1" fill="#a8b0a8" opacity="0.7"/><rect x="172.3" y="176.9" width="2.1" height="2.1" fill="#7c8272" opacity="0.7"/><rect x="174.4" y="176.9" width="2.1" height="2.1" fill="#6a6a58" opacity="0.7"/><rect x="176.5" y="176.9" width="2.1" height="2.1" fill="#7c8272" opacity="0.7"/><rect x="178.6" y="176.9" width="1.6" height="2.1" fill="#98a090" opacity="0.7"/><rect x="100.9" y="179.0" width="2.1" height="2.1" fill="#98a090" opacity="0.7"/><rect x="103.0" y="179.0" width="2.1" height="2.1" fill="#5c6454" opacity="0.7"/><rect x="105.1" y="179.0" width="2.1" height="2.1" fill="#7c8272" opacity="0.7"/><rect x="107.2" y="179.0" width="2.1" height="2.1" fill="#7c8272" opacity="0.7"/><rect x="109.3" y="179.0" width="2.1" height="2.1" fill="#6a6a58" opacity="0.7"/><rect x="111.4" y="179.0" width="2.1" height="2.1" fill="#a8b0a8" opacity="0.7"/><rect x="113.5" y="179.0" width="2.1" height="2.1" fill="#6a6a58" opacity="0.7"/><rect x="115.6" y="179.0" width="2.1" height="2.1" fill="#7c8272" opacity="0.7"/><rect x="117.7" y="179.0" width="2.1" height="2.1" fill="#7c8272" opacity="0.7"/><rect x="119.8" y="179.0" width="2.1" height="2.1" fill="#a8b0a8" opacity="0.7"/><rect x="121.9" y="179.0" width="2.1" height="2.1" fill="#5c6454" opacity="0.7"/><rect x="124.0" y="179.0" width="2.1" height="2.1" fill="#6a6a58" opacity="0.7"/><rect x="126.1" y="179.0" width="2.1" height="2.1" fill="#6a6a58" opacity="0.7"/><rect x="128.2" y="179.0" width="2.1" height="2.1" fill="#6a6a58" opacity="0.7"/><rect x="130.3" y="179.0" width="2.1" height="2.1" fill="#6a6a58" opacity="0.7"/><rect x="132.4" y="179.0" width="2.1" height="2.1" fill="#98a090" opacity="0.7"/><rect x="134.5" y="179.0" width="2.1" height="2.1" fill="#5c6454" opacity="0.7"/><rect x="136.6" y="179.0" width="2.1" height="2.1" fill="#a8b0a8" opacity="0.7"/><rect x="138.7" y="179.0" width="2.1" height="2.1" fill="#6a6a58" opacity="0.7"/><rect x="140.8" y="179.0" width="2.1" height="2.1" fill="#6a6a58" opacity="0.7"/><rect x="142.9" y="179.0" width="2.1" height="2.1" fill="#a8b0a8" opacity="0.7"/><rect x="145.0" y="179.0" width="2.1" height="2.1" fill="#6a6a58" opacity="0.7"/><rect x="147.1" y="179.0" width="2.1" height="2.1" fill="#98a090" opacity="0.7"/><rect x="149.2" y="179.0" width="2.1" height="2.1" fill="#6a6a58" opacity="0.7"/><rect x="151.3" y="179.0" width="2.1" height="2.1" fill="#5c6454" opacity="0.7"/><rect x="153.4" y="179.0" width="2.1" height="2.1" fill="#6a6a58" opacity="0.7"/><rect x="155.5" y="179.0" width="2.1" height="2.1" fill="#98a090" opacity="0.7"/><rect x="157.6" y="179.0" width="2.1" height="2.1" fill="#a8b0a8" opacity="0.7"/><rect x="159.7" y="179.0" width="2.1" height="2.1" fill="#98a090" opacity="0.7"/><rect x="161.8" y="179.0" width="2.1" height="2.1" fill="#a8b0a8" opacity="0.7"/><rect x="163.9" y="179.0" width="2.1" height="2.1" fill="#7c8272" opacity="0.7"/><rect x="166.0" y="179.0" width="2.1" height="2.1" fill="#a8b0a8" opacity="0.7"/><rect x="168.1" y="179.0" width="2.1" height="2.1" fill="#a8b0a8" opacity="0.7"/><rect x="170.2" y="179.0" width="2.1" height="2.1" fill="#5c6454" opacity="0.7"/><rect x="172.3" y="179.0" width="2.1" height="2.1" fill="#7c8272" opacity="0.7"/><rect x="174.4" y="179.0" width="2.1" height="2.1" fill="#98a090" opacity="0.7"/><rect x="176.5" y="179.0" width="2.1" height="2.1" fill="#a8b0a8" opacity="0.7"/><rect x="178.6" y="179.0" width="1.6" height="2.1" fill="#7c8272" opacity="0.7"/><rect x="100.9" y="181.1" width="2.1" height="2.1" fill="#98a090" opacity="0.7"/><rect x="103.0" y="181.1" width="2.1" height="2.1" fill="#5c6454" opacity="0.7"/><rect x="105.1" y="181.1" width="2.1" height="2.1" fill="#7c8272" opacity="0.7"/><rect x="107.2" y="181.1" width="2.1" height="2.1" fill="#98a090" opacity="0.7"/><rect x="109.3" y="181.1" width="2.1" height="2.1" fill="#5c6454" opacity="0.7"/><rect x="111.4" y="181.1" width="2.1" height="2.1" fill="#98a090" opacity="0.7"/><rect x="113.5" y="181.1" width="2.1" height="2.1" fill="#5c6454" opacity="0.7"/><rect x="115.6" y="181.1" width="2.1" height="2.1" fill="#98a090" opacity="0.7"/><rect x="117.7" y="181.1" width="2.1" height="2.1" fill="#a8b0a8" opacity="0.7"/><rect x="119.8" y="181.1" width="2.1" height="2.1" fill="#98a090" opacity="0.7"/><rect x="121.9" y="181.1" width="2.1" height="2.1" fill="#7c8272" opacity="0.7"/><rect x="124.0" y="181.1" width="2.1" height="2.1" fill="#a8b0a8" opacity="0.7"/><rect x="126.1" y="181.1" width="2.1" height="2.1" fill="#a8b0a8" opacity="0.7"/><rect x="128.2" y="181.1" width="2.1" height="2.1" fill="#98a090" opacity="0.7"/><rect x="130.3" y="181.1" width="2.1" height="2.1" fill="#98a090" opacity="0.7"/><rect x="132.4" y="181.1" width="2.1" height="2.1" fill="#98a090" opacity="0.7"/><rect x="134.5" y="181.1" width="2.1" height="2.1" fill="#a8b0a8" opacity="0.7"/><rect x="136.6" y="181.1" width="2.1" height="2.1" fill="#6a6a58" opacity="0.7"/><rect x="138.7" y="181.1" width="2.1" height="2.1" fill="#a8b0a8" opacity="0.7"/><rect x="140.8" y="181.1" width="2.1" height="2.1" fill="#5c6454" opacity="0.7"/><rect x="142.9" y="181.1" width="2.1" height="2.1" fill="#a8b0a8" opacity="0.7"/><rect x="145.0" y="181.1" width="2.1" height="2.1" fill="#98a090" opacity="0.7"/><rect x="147.1" y="181.1" width="2.1" height="2.1" fill="#5c6454" opacity="0.7"/><rect x="149.2" y="181.1" width="2.1" height="2.1" fill="#5c6454" opacity="0.7"/><rect x="151.3" y="181.1" width="2.1" height="2.1" fill="#7c8272" opacity="0.7"/><rect x="153.4" y="181.1" width="2.1" height="2.1" fill="#5c6454" opacity="0.7"/><rect x="155.5" y="181.1" width="2.1" height="2.1" fill="#7c8272" opacity="0.7"/><rect x="157.6" y="181.1" width="2.1" height="2.1" fill="#5c6454" opacity="0.7"/><rect x="159.7" y="181.1" width="2.1" height="2.1" fill="#6a6a58" opacity="0.7"/><rect x="161.8" y="181.1" width="2.1" height="2.1" fill="#a8b0a8" opacity="0.7"/><rect x="163.9" y="181.1" width="2.1" height="2.1" fill="#a8b0a8" opacity="0.7"/><rect x="166.0" y="181.1" width="2.1" height="2.1" fill="#7c8272" opacity="0.7"/><rect x="168.1" y="181.1" width="2.1" height="2.1" fill="#a8b0a8" opacity="0.7"/><rect x="170.2" y="181.1" width="2.1" height="2.1" fill="#5c6454" opacity="0.7"/><rect x="172.3" y="181.1" width="2.1" height="2.1" fill="#6a6a58" opacity="0.7"/><rect x="174.4" y="181.1" width="2.1" height="2.1" fill="#6a6a58" opacity="0.7"/><rect x="176.5" y="181.1" width="2.1" height="2.1" fill="#5c6454" opacity="0.7"/><rect x="178.6" y="181.1" width="1.6" height="2.1" fill="#6a6a58" opacity="0.7"/><rect x="100.9" y="183.2" width="2.1" height="1.0" fill="#7c8272" opacity="0.7"/><rect x="103.0" y="183.2" width="2.1" height="1.0" fill="#7c8272" opacity="0.7"/><rect x="105.1" y="183.2" width="2.1" height="1.0" fill="#98a090" opacity="0.7"/><rect x="107.2" y="183.2" width="2.1" height="1.0" fill="#7c8272" opacity="0.7"/><rect x="109.3" y="183.2" width="2.1" height="1.0" fill="#7c8272" opacity="0.7"/><rect x="111.4" y="183.2" width="2.1" height="1.0" fill="#5c6454" opacity="0.7"/><rect x="113.5" y="183.2" width="2.1" height="1.0" fill="#5c6454" opacity="0.7"/><rect x="115.6" y="183.2" width="2.1" height="1.0" fill="#7c8272" opacity="0.7"/><rect x="117.7" y="183.2" width="2.1" height="1.0" fill="#98a090" opacity="0.7"/><rect x="119.8" y="183.2" width="2.1" height="1.0" fill="#5c6454" opacity="0.7"/><rect x="121.9" y="183.2" width="2.1" height="1.0" fill="#98a090" opacity="0.7"/><rect x="124.0" y="183.2" width="2.1" height="1.0" fill="#a8b0a8" opacity="0.7"/><rect x="126.1" y="183.2" width="2.1" height="1.0" fill="#5c6454" opacity="0.7"/><rect x="128.2" y="183.2" width="2.1" height="1.0" fill="#a8b0a8" opacity="0.7"/><rect x="130.3" y="183.2" width="2.1" height="1.0" fill="#98a090" opacity="0.7"/><rect x="132.4" y="183.2" width="2.1" height="1.0" fill="#6a6a58" opacity="0.7"/><rect x="134.5" y="183.2" width="2.1" height="1.0" fill="#6a6a58" opacity="0.7"/><rect x="136.6" y="183.2" width="2.1" height="1.0" fill="#6a6a58" opacity="0.7"/><rect x="138.7" y="183.2" width="2.1" height="1.0" fill="#a8b0a8" opacity="0.7"/><rect x="140.8" y="183.2" width="2.1" height="1.0" fill="#5c6454" opacity="0.7"/><rect x="142.9" y="183.2" width="2.1" height="1.0" fill="#7c8272" opacity="0.7"/><rect x="145.0" y="183.2" width="2.1" height="1.0" fill="#5c6454" opacity="0.7"/><rect x="147.1" y="183.2" width="2.1" height="1.0" fill="#7c8272" opacity="0.7"/><rect x="149.2" y="183.2" width="2.1" height="1.0" fill="#98a090" opacity="0.7"/><rect x="151.3" y="183.2" width="2.1" height="1.0" fill="#a8b0a8" opacity="0.7"/><rect x="153.4" y="183.2" width="2.1" height="1.0" fill="#7c8272" opacity="0.7"/><rect x="155.5" y="183.2" width="2.1" height="1.0" fill="#5c6454" opacity="0.7"/><rect x="157.6" y="183.2" width="2.1" height="1.0" fill="#7c8272" opacity="0.7"/><rect x="159.7" y="183.2" width="2.1" height="1.0" fill="#7c8272" opacity="0.7"/><rect x="161.8" y="183.2" width="2.1" height="1.0" fill="#5c6454" opacity="0.7"/><rect x="163.9" y="183.2" width="2.1" height="1.0" fill="#7c8272" opacity="0.7"/><rect x="166.0" y="183.2" width="2.1" height="1.0" fill="#6a6a58" opacity="0.7"/><rect x="168.1" y="183.2" width="2.1" height="1.0" fill="#98a090" opacity="0.7"/><rect x="170.2" y="183.2" width="2.1" height="1.0" fill="#7c8272" opacity="0.7"/><rect x="172.3" y="183.2" width="2.1" height="1.0" fill="#5c6454" opacity="0.7"/><rect x="174.4" y="183.2" width="2.1" height="1.0" fill="#7c8272" opacity="0.7"/><rect x="176.5" y="183.2" width="2.1" height="1.0" fill="#a8b0a8" opacity="0.7"/><rect x="178.6" y="183.2" width="1.6" height="1.0" fill="#7c8272" opacity="0.7"/>
<rect x="130" y="176" width="22" height="7" fill="#b4c4c4" opacity="0.85"/>
<rect x="99" y="184.2" width="19" height="15" fill="#86867a"/>
<rect x="100.9" y="184.2" width="2.0" height="2.0" fill="#5a5a50" opacity="0.75"/><rect x="102.9" y="184.2" width="2.0" height="2.0" fill="#6a6a5a" opacity="0.75"/><rect x="104.9" y="184.2" width="2.0" height="2.0" fill="#c8c8c0" opacity="0.75"/><rect x="106.9" y="184.2" width="2.0" height="2.0" fill="#5a5a50" opacity="0.75"/><rect x="108.9" y="184.2" width="2.0" height="2.0" fill="#6a6a5a" opacity="0.75"/><rect x="110.9" y="184.2" width="2.0" height="2.0" fill="#a8a89a" opacity="0.75"/><rect x="112.9" y="184.2" width="2.0" height="2.0" fill="#86867a" opacity="0.75"/><rect x="114.9" y="184.2" width="2.0" height="2.0" fill="#6a6a5a" opacity="0.75"/><rect x="116.9" y="184.2" width="0.6" height="2.0" fill="#a8a89a" opacity="0.75"/><rect x="100.9" y="186.2" width="2.0" height="2.0" fill="#86867a" opacity="0.75"/><rect x="102.9" y="186.2" width="2.0" height="2.0" fill="#a8a89a" opacity="0.75"/><rect x="104.9" y="186.2" width="2.0" height="2.0" fill="#5a5a50" opacity="0.75"/><rect x="106.9" y="186.2" width="2.0" height="2.0" fill="#86867a" opacity="0.75"/><rect x="108.9" y="186.2" width="2.0" height="2.0" fill="#a8a89a" opacity="0.75"/><rect x="110.9" y="186.2" width="2.0" height="2.0" fill="#a8a89a" opacity="0.75"/><rect x="112.9" y="186.2" width="2.0" height="2.0" fill="#5a5a50" opacity="0.75"/><rect x="114.9" y="186.2" width="2.0" height="2.0" fill="#5a5a50" opacity="0.75"/><rect x="116.9" y="186.2" width="0.6" height="2.0" fill="#6a6a5a" opacity="0.75"/><rect x="100.9" y="188.2" width="2.0" height="2.0" fill="#a8a89a" opacity="0.75"/><rect x="102.9" y="188.2" width="2.0" height="2.0" fill="#5a5a50" opacity="0.75"/><rect x="104.9" y="188.2" width="2.0" height="2.0" fill="#c8c8c0" opacity="0.75"/><rect x="106.9" y="188.2" width="2.0" height="2.0" fill="#6a6a5a" opacity="0.75"/><rect x="108.9" y="188.2" width="2.0" height="2.0" fill="#a8a89a" opacity="0.75"/><rect x="110.9" y="188.2" width="2.0" height="2.0" fill="#5a5a50" opacity="0.75"/><rect x="112.9" y="188.2" width="2.0" height="2.0" fill="#5a5a50" opacity="0.75"/><rect x="114.9" y="188.2" width="2.0" height="2.0" fill="#86867a" opacity="0.75"/><rect x="116.9" y="188.2" width="0.6" height="2.0" fill="#5a5a50" opacity="0.75"/><rect x="100.9" y="190.2" width="2.0" height="2.0" fill="#86867a" opacity="0.75"/><rect x="102.9" y="190.2" width="2.0" height="2.0" fill="#86867a" opacity="0.75"/><rect x="104.9" y="190.2" width="2.0" height="2.0" fill="#86867a" opacity="0.75"/><rect x="106.9" y="190.2" width="2.0" height="2.0" fill="#6a6a5a" opacity="0.75"/><rect x="108.9" y="190.2" width="2.0" height="2.0" fill="#6a6a5a" opacity="0.75"/><rect x="110.9" y="190.2" width="2.0" height="2.0" fill="#a8a89a" opacity="0.75"/><rect x="112.9" y="190.2" width="2.0" height="2.0" fill="#6a6a5a" opacity="0.75"/><rect x="114.9" y="190.2" width="2.0" height="2.0" fill="#c8c8c0" opacity="0.75"/><rect x="116.9" y="190.2" width="0.6" height="2.0" fill="#a8a89a" opacity="0.75"/><rect x="100.9" y="192.2" width="2.0" height="2.0" fill="#c8c8c0" opacity="0.75"/><rect x="102.9" y="192.2" width="2.0" height="2.0" fill="#86867a" opacity="0.75"/><rect x="104.9" y="192.2" width="2.0" height="2.0" fill="#c8c8c0" opacity="0.75"/><rect x="106.9" y="192.2" width="2.0" height="2.0" fill="#c8c8c0" opacity="0.75"/><rect x="108.9" y="192.2" width="2.0" height="2.0" fill="#6a6a5a" opacity="0.75"/><rect x="110.9" y="192.2" width="2.0" height="2.0" fill="#c8c8c0" opacity="0.75"/><rect x="112.9" y="192.2" width="2.0" height="2.0" fill="#6a6a5a" opacity="0.75"/><rect x="114.9" y="192.2" width="2.0" height="2.0" fill="#5a5a50" opacity="0.75"/><rect x="116.9" y="192.2" width="0.6" height="2.0" fill="#a8a89a" opacity="0.75"/><rect x="100.9" y="194.2" width="2.0" height="2.0" fill="#a8a89a" opacity="0.75"/><rect x="102.9" y="194.2" width="2.0" height="2.0" fill="#5a5a50" opacity="0.75"/><rect x="104.9" y="194.2" width="2.0" height="2.0" fill="#a8a89a" opacity="0.75"/><rect x="106.9" y="194.2" width="2.0" height="2.0" fill="#a8a89a" opacity="0.75"/><rect x="108.9" y="194.2" width="2.0" height="2.0" fill="#c8c8c0" opacity="0.75"/><rect x="110.9" y="194.2" width="2.0" height="2.0" fill="#5a5a50" opacity="0.75"/><rect x="112.9" y="194.2" width="2.0" height="2.0" fill="#86867a" opacity="0.75"/><rect x="114.9" y="194.2" width="2.0" height="2.0" fill="#a8a89a" opacity="0.75"/><rect x="116.9" y="194.2" width="0.6" height="2.0" fill="#86867a" opacity="0.75"/><rect x="100.9" y="196.2" width="2.0" height="1.6" fill="#86867a" opacity="0.75"/><rect x="102.9" y="196.2" width="2.0" height="1.6" fill="#5a5a50" opacity="0.75"/><rect x="104.9" y="196.2" width="2.0" height="1.6" fill="#c8c8c0" opacity="0.75"/><rect x="106.9" y="196.2" width="2.0" height="1.6" fill="#a8a89a" opacity="0.75"/><rect x="108.9" y="196.2" width="2.0" height="1.6" fill="#86867a" opacity="0.75"/><rect x="110.9" y="196.2" width="2.0" height="1.6" fill="#86867a" opacity="0.75"/><rect x="112.9" y="196.2" width="2.0" height="1.6" fill="#c8c8c0" opacity="0.75"/><rect x="114.9" y="196.2" width="2.0" height="1.6" fill="#6a6a5a" opacity="0.75"/><rect x="116.9" y="196.2" width="0.6" height="1.6" fill="#5a5a50" opacity="0.75"/>
<rect x="100.9" y="183" width="2.5" height="4.5" fill="#c89440"/>
<rect x="117.5" y="184.2" width="15" height="13.6" fill="#a4440e"/>
<rect x="132.5" y="184.2" width="5.5" height="13.6" fill="#2c2444"/>
<rect x="134.8" y="184.2" width="15.3" height="2.2" fill="#f2d4d4"/>
<rect x="138" y="186.4" width="12.5" height="11.4" fill="#c48e2e"/>
<rect x="150.5" y="185" width="10" height="12.8" fill="#b0485e"/>
<rect x="160.5" y="178.5" width="5" height="12" fill="#2a1a18"/>
<rect x="160.5" y="184.2" width="20" height="13.6" fill="#746a54"/>
<rect x="165.5" y="176.0" width="2.1" height="2.1" fill="#8a7a58" opacity="0.75"/><rect x="167.6" y="176.0" width="2.1" height="2.1" fill="#c8c0a8" opacity="0.75"/><rect x="169.7" y="176.0" width="2.1" height="2.1" fill="#5a5240" opacity="0.75"/><rect x="171.8" y="176.0" width="2.1" height="2.1" fill="#746a54" opacity="0.75"/><rect x="173.9" y="176.0" width="2.1" height="2.1" fill="#a09880" opacity="0.75"/><rect x="176.0" y="176.0" width="2.1" height="2.1" fill="#c8c0a8" opacity="0.75"/><rect x="178.1" y="176.0" width="2.1" height="2.1" fill="#c8c0a8" opacity="0.75"/><rect x="180.2" y="176.0" width="0.0" height="2.1" fill="#5a5240" opacity="0.75"/><rect x="165.5" y="178.1" width="2.1" height="2.1" fill="#a09880" opacity="0.75"/><rect x="167.6" y="178.1" width="2.1" height="2.1" fill="#746a54" opacity="0.75"/><rect x="169.7" y="178.1" width="2.1" height="2.1" fill="#5a5240" opacity="0.75"/><rect x="171.8" y="178.1" width="2.1" height="2.1" fill="#5a5240" opacity="0.75"/><rect x="173.9" y="178.1" width="2.1" height="2.1" fill="#5a5240" opacity="0.75"/><rect x="176.0" y="178.1" width="2.1" height="2.1" fill="#8a7a58" opacity="0.75"/><rect x="178.1" y="178.1" width="2.1" height="2.1" fill="#5a5240" opacity="0.75"/><rect x="180.2" y="178.1" width="0.0" height="2.1" fill="#c8c0a8" opacity="0.75"/><rect x="165.5" y="180.2" width="2.1" height="2.1" fill="#746a54" opacity="0.75"/><rect x="167.6" y="180.2" width="2.1" height="2.1" fill="#5a5240" opacity="0.75"/><rect x="169.7" y="180.2" width="2.1" height="2.1" fill="#c8c0a8" opacity="0.75"/><rect x="171.8" y="180.2" width="2.1" height="2.1" fill="#5a5240" opacity="0.75"/><rect x="173.9" y="180.2" width="2.1" height="2.1" fill="#c8c0a8" opacity="0.75"/><rect x="176.0" y="180.2" width="2.1" height="2.1" fill="#746a54" opacity="0.75"/><rect x="178.1" y="180.2" width="2.1" height="2.1" fill="#5a5240" opacity="0.75"/><rect x="180.2" y="180.2" width="0.0" height="2.1" fill="#a09880" opacity="0.75"/><rect x="165.5" y="182.3" width="2.1" height="2.1" fill="#746a54" opacity="0.75"/><rect x="167.6" y="182.3" width="2.1" height="2.1" fill="#a09880" opacity="0.75"/><rect x="169.7" y="182.3" width="2.1" height="2.1" fill="#5a5240" opacity="0.75"/><rect x="171.8" y="182.3" width="2.1" height="2.1" fill="#8a7a58" opacity="0.75"/><rect x="173.9" y="182.3" width="2.1" height="2.1" fill="#c8c0a8" opacity="0.75"/><rect x="176.0" y="182.3" width="2.1" height="2.1" fill="#c8c0a8" opacity="0.75"/><rect x="178.1" y="182.3" width="2.1" height="2.1" fill="#8a7a58" opacity="0.75"/><rect x="180.2" y="182.3" width="0.0" height="2.1" fill="#746a54" opacity="0.75"/><rect x="165.5" y="184.4" width="2.1" height="2.1" fill="#746a54" opacity="0.75"/><rect x="167.6" y="184.4" width="2.1" height="2.1" fill="#5a5240" opacity="0.75"/><rect x="169.7" y="184.4" width="2.1" height="2.1" fill="#746a54" opacity="0.75"/><rect x="171.8" y="184.4" width="2.1" height="2.1" fill="#c8c0a8" opacity="0.75"/><rect x="173.9" y="184.4" width="2.1" height="2.1" fill="#a09880" opacity="0.75"/><rect x="176.0" y="184.4" width="2.1" height="2.1" fill="#8a7a58" opacity="0.75"/><rect x="178.1" y="184.4" width="2.1" height="2.1" fill="#746a54" opacity="0.75"/><rect x="180.2" y="184.4" width="0.0" height="2.1" fill="#a09880" opacity="0.75"/><rect x="165.5" y="186.5" width="2.1" height="2.1" fill="#746a54" opacity="0.75"/><rect x="167.6" y="186.5" width="2.1" height="2.1" fill="#5a5240" opacity="0.75"/><rect x="169.7" y="186.5" width="2.1" height="2.1" fill="#5a5240" opacity="0.75"/><rect x="171.8" y="186.5" width="2.1" height="2.1" fill="#c8c0a8" opacity="0.75"/><rect x="173.9" y="186.5" width="2.1" height="2.1" fill="#746a54" opacity="0.75"/><rect x="176.0" y="186.5" width="2.1" height="2.1" fill="#8a7a58" opacity="0.75"/><rect x="178.1" y="186.5" width="2.1" height="2.1" fill="#8a7a58" opacity="0.75"/><rect x="180.2" y="186.5" width="0.0" height="2.1" fill="#c8c0a8" opacity="0.75"/><rect x="165.5" y="188.6" width="2.1" height="2.1" fill="#8a7a58" opacity="0.75"/><rect x="167.6" y="188.6" width="2.1" height="2.1" fill="#a09880" opacity="0.75"/><rect x="169.7" y="188.6" width="2.1" height="2.1" fill="#5a5240" opacity="0.75"/><rect x="171.8" y="188.6" width="2.1" height="2.1" fill="#a09880" opacity="0.75"/><rect x="173.9" y="188.6" width="2.1" height="2.1" fill="#c8c0a8" opacity="0.75"/><rect x="176.0" y="188.6" width="2.1" height="2.1" fill="#5a5240" opacity="0.75"/><rect x="178.1" y="188.6" width="2.1" height="2.1" fill="#8a7a58" opacity="0.75"/><rect x="180.2" y="188.6" width="0.0" height="2.1" fill="#c8c0a8" opacity="0.75"/><rect x="165.5" y="190.7" width="2.1" height="2.1" fill="#746a54" opacity="0.75"/><rect x="167.6" y="190.7" width="2.1" height="2.1" fill="#8a7a58" opacity="0.75"/><rect x="169.7" y="190.7" width="2.1" height="2.1" fill="#a09880" opacity="0.75"/><rect x="171.8" y="190.7" width="2.1" height="2.1" fill="#8a7a58" opacity="0.75"/><rect x="173.9" y="190.7" width="2.1" height="2.1" fill="#c8c0a8" opacity="0.75"/><rect x="176.0" y="190.7" width="2.1" height="2.1" fill="#8a7a58" opacity="0.75"/><rect x="178.1" y="190.7" width="2.1" height="2.1" fill="#8a7a58" opacity="0.75"/><rect x="180.2" y="190.7" width="0.0" height="2.1" fill="#8a7a58" opacity="0.75"/><rect x="165.5" y="192.8" width="2.1" height="2.1" fill="#746a54" opacity="0.75"/><rect x="167.6" y="192.8" width="2.1" height="2.1" fill="#8a7a58" opacity="0.75"/><rect x="169.7" y="192.8" width="2.1" height="2.1" fill="#c8c0a8" opacity="0.75"/><rect x="171.8" y="192.8" width="2.1" height="2.1" fill="#746a54" opacity="0.75"/><rect x="173.9" y="192.8" width="2.1" height="2.1" fill="#746a54" opacity="0.75"/><rect x="176.0" y="192.8" width="2.1" height="2.1" fill="#746a54" opacity="0.75"/><rect x="178.1" y="192.8" width="2.1" height="2.1" fill="#c8c0a8" opacity="0.75"/><rect x="180.2" y="192.8" width="0.0" height="2.1" fill="#5a5240" opacity="0.75"/><rect x="165.5" y="194.9" width="2.1" height="2.1" fill="#746a54" opacity="0.75"/><rect x="167.6" y="194.9" width="2.1" height="2.1" fill="#a09880" opacity="0.75"/><rect x="169.7" y="194.9" width="2.1" height="2.1" fill="#a09880" opacity="0.75"/><rect x="171.8" y="194.9" width="2.1" height="2.1" fill="#8a7a58" opacity="0.75"/><rect x="173.9" y="194.9" width="2.1" height="2.1" fill="#746a54" opacity="0.75"/><rect x="176.0" y="194.9" width="2.1" height="2.1" fill="#746a54" opacity="0.75"/><rect x="178.1" y="194.9" width="2.1" height="2.1" fill="#8a7a58" opacity="0.75"/><rect x="180.2" y="194.9" width="0.0" height="2.1" fill="#c8c0a8" opacity="0.75"/><rect x="165.5" y="197.0" width="2.1" height="0.8" fill="#a09880" opacity="0.75"/><rect x="167.6" y="197.0" width="2.1" height="0.8" fill="#5a5240" opacity="0.75"/><rect x="169.7" y="197.0" width="2.1" height="0.8" fill="#746a54" opacity="0.75"/><rect x="171.8" y="197.0" width="2.1" height="0.8" fill="#a09880" opacity="0.75"/><rect x="173.9" y="197.0" width="2.1" height="0.8" fill="#746a54" opacity="0.75"/><rect x="176.0" y="197.0" width="2.1" height="0.8" fill="#8a7a58" opacity="0.75"/><rect x="178.1" y="197.0" width="2.1" height="0.8" fill="#8a7a58" opacity="0.75"/><rect x="180.2" y="197.0" width="0.0" height="0.8" fill="#746a54" opacity="0.75"/>
<rect x="170.5" y="180" width="8" height="10" fill="#cfc8b0" opacity="0.8"/>
</g></g></g>
<g id="t3"><rect x="132.8" y="92.8" width="102.8" height="72.3" fill="#fff"/><rect x="135.8" y="95.8" width="96.8" height="66.3" fill="#000"/>
<g clip-path="url(#c3)"><g filter="url(#bl)">
<rect x="143" y="105" width="70" height="48" fill="#06060a"/>
<rect x="144.2" y="106.8" width="7.8" height="17.5" fill="#6a644e"/>
<rect x="154" y="105" width="23" height="18.5" fill="#b4b4b4"/>
<polygon points="160,105 166,105 158,123.5 154,123.5 154,118" fill="#9a9a9a"/>
<polygon points="166,105 177,105 177,123.5 170,123.5" fill="#c8c8c8"/>
<rect x="176" y="117" width="27" height="7" fill="#b4b4ac"/>
<rect x="180" y="119.5" width="3" height="2.5" fill="#6a6a64"/><rect x="188" y="119.5" width="4" height="2.5" fill="#7a7a70"/><rect x="195" y="120" width="3" height="2.5" fill="#6a6a64"/>
<rect x="164" y="123.6" width="41" height="3.2" fill="#1e2644"/>
<rect x="168" y="126.8" width="11" height="23.5" fill="#b8bcc0"/>
<rect x="169.5" y="129" width="7" height="19" fill="#d0d0cc"/>
<rect x="179" y="126.8" width="11" height="15.5" fill="#ccd6dc"/>
<rect x="179" y="142.3" width="11" height="4" fill="#4e6e5c"/><rect x="179" y="146.3" width="11" height="4" fill="#30486e"/>
<rect x="190" y="126.8" width="2" height="24" fill="#141a34"/>
<rect x="192" y="126.8" width="15" height="20" fill="#c4cede"/><rect x="192" y="144" width="15" height="6.3" fill="#b0b2d8"/>
<polygon points="197,117 215,117 215,152 208.5,152" fill="#06060a"/>
<ellipse cx="156.5" cy="137.5" rx="11.8" ry="15" fill="#0b0b16"/>
<rect x="143" y="136" width="24.5" height="17" fill="#0b0b16"/>
<rect x="143" y="150.3" width="70" height="3" fill="#08080c"/>
</g></g></g>
<g id="t4"><rect x="176.1" y="45.8" width="102.9" height="72.6" fill="#fff"/><rect x="179.1" y="48.8" width="96.9" height="66.6" fill="#000"/>
<g clip-path="url(#c4)"><g filter="url(#bl)">
<rect x="186" y="58" width="83" height="49" fill="#2c1a10"/>
<rect x="186" y="58" width="83" height="8.6" fill="url(#beam)"/>
<rect x="186" y="66.6" width="83" height="7.6" fill="#15120e"/>
<rect x="204" y="68.5" width="52" height="4.5" fill="#363a32"/>
<rect x="186" y="74.2" width="12" height="20" fill="#12100e"/>
<rect x="197.4" y="74.2" width="2" height="20" fill="#6a6460"/>
<rect x="199.5" y="74.2" width="58" height="20" fill="#2e1a10"/>
<rect x="201.5" y="78" width="2.2" height="14.5" fill="#74401e"/>
<rect x="208.5" y="78" width="2.2" height="14.5" fill="#74401e"/>
<rect x="215.5" y="78" width="2.2" height="14.5" fill="#74401e"/>
<rect x="226.5" y="78" width="2.2" height="14.5" fill="#74401e"/>
<rect x="233" y="78" width="2.2" height="14.5" fill="#74401e"/>
<rect x="241.5" y="78" width="2.2" height="14.5" fill="#74401e"/>
<rect x="249.5" y="78" width="2.2" height="14.5" fill="#74401e"/>
<rect x="200" y="86" width="57" height="1.4" fill="#8a7060"/>
<rect x="256" y="74.2" width="2" height="20" fill="#8a846e"/>
<rect x="258" y="74.2" width="11" height="20" fill="#28202a"/>
<rect x="258.5" y="75.5" width="6.5" height="2.2" fill="#d0c8b0"/>
<rect x="216" y="75" width="6" height="2.2" fill="#e4dccc"/><rect x="235" y="75" width="5.5" height="2.2" fill="#e4dccc"/>
<rect x="203" y="82" width="5" height="2" fill="#c8b8a0"/><rect x="245" y="81" width="5" height="2.2" fill="#d0c4b0"/>
<rect x="186" y="94" width="83" height="12" fill="url(#floor)"/>
<rect x="219.2" y="78" width="3.6" height="12" fill="#1c1a26"/><rect x="219.6" y="90" width="1.3" height="7" fill="#16141c"/><rect x="221.5" y="90" width="1.3" height="6.5" fill="#16141c"/>
</g></g></g>
<g id="pb">
<rect x="803.9" y="114.2" width="75.1" height="179.7" fill="#fff" stroke="#8b0000" stroke-width="4.2"/>
<rect x="896.2" y="125.7" width="79.6" height="168.2" fill="#8b0000"/>
<rect x="992.2" y="210.8" width="75.6" height="83.1" fill="#ecc9c9" stroke="#8b0000" stroke-width="4.3"/>
<line x1="787.4" y1="23.3" x2="787.4" y2="428.7" stroke="#000" stroke-width="3.3"/>
<line x1="785.8" y1="427.2" x2="1079.4" y2="427.2" stroke="#000" stroke-width="3.1"/>
<line x1="785.8" y1="293.9" x2="1077" y2="293.9" stroke="#000" stroke-width="4"/>
<line x1="787.4" y1="24.7" x2="795.3" y2="24.7" stroke="#000" stroke-width="2.8"/>
<line x1="787.4" y1="159.8" x2="795.3" y2="159.8" stroke="#000" stroke-width="2.8"/>
<line x1="841.4" y1="419.2" x2="841.4" y2="427.2" stroke="#000" stroke-width="2.6"/>
<line x1="935.6" y1="419.2" x2="935.6" y2="427.2" stroke="#000" stroke-width="2.6"/>
<line x1="1030.1" y1="419.2" x2="1030.1" y2="427.2" stroke="#000" stroke-width="2.6"/>
<text x="776.5" y="42.7" font-size="26" text-anchor="end">0.4</text>
<text x="776.5" y="172.3" font-size="26" text-anchor="end">0.2</text>
<text x="776.5" y="301.2" font-size="26" text-anchor="end">0</text>
<text x="776.5" y="428.6" font-size="26" text-anchor="end">-0.2</text>
<text x="841.4" y="456" font-size="24.5" text-anchor="middle">SPN x</text>
<text x="841.4" y="484.9" font-size="24.5" text-anchor="middle">SPN</text>
<text x="935.6" y="456" font-size="24.5" text-anchor="middle">PMN x</text>
<text x="935.6" y="484.9" font-size="24.5" text-anchor="middle">PMN</text>
<text x="1030.1" y="456" font-size="24.5" text-anchor="middle">SPN x</text>
<text x="1030.1" y="484.9" font-size="24.5" text-anchor="middle">PMN</text>
<text transform="translate(694.1,320.5) rotate(-90)" font-size="25" textLength="184" lengthAdjust="spacingAndGlyphs">Network average</text>
<text transform="translate(725.1,376.5) rotate(-90)" font-size="25" textLength="296.5" lengthAdjust="spacingAndGlyphs">r-values (partial correlation)</text>
<rect x="937.7" y="33.2" width="92.7" height="4" fill="#000"/>
<rect x="842" y="51.8" width="188.4" height="4" fill="#000"/>
<path d="M970.6,6.2V17.6M965.1,8.5L976.1,15.3M965.1,15.3L976.1,8.5" stroke="#000" stroke-width="1.5" fill="none"/><path d="M983.9,6.2V17.6M978.4,8.5L989.4,15.3M978.4,15.3L989.4,8.5" stroke="#000" stroke-width="1.5" fill="none"/><path d="M997.2,6.2V17.6M991.7,8.5L1002.7,15.3M991.7,15.3L1002.7,8.5" stroke="#000" stroke-width="1.5" fill="none"/>
<polyline points="841.5,69.7 935.7,95.8 1029.8,225.1" fill="none" stroke="#c6c6c6" stroke-width="1.1"/><polyline points="841.5,78 935.7,71.2 1029.8,222.9" fill="none" stroke="#c6c6c6" stroke-width="1.1"/><polyline points="841.5,79.8 935.7,119.3 1029.8,238.1" fill="none" stroke="#c6c6c6" stroke-width="1.1"/><polyline points="841.5,82.2 935.7,136.7 1029.8,216" fill="none" stroke="#c6c6c6" stroke-width="1.1"/><polyline points="841.5,105.5 935.7,86.6 1029.8,220.7" fill="none" stroke="#c6c6c6" stroke-width="1.1"/><polyline points="841.5,116.5 935.7,71.2 1029.8,218.8" fill="none" stroke="#c6c6c6" stroke-width="1.1"/><polyline points="841.5,114.2 935.7,93.9 1029.8,209.2" fill="none" stroke="#c6c6c6" stroke-width="1.1"/><polyline points="841.5,108.3 935.7,97.3 1029.8,200.9" fill="none" stroke="#c6c6c6" stroke-width="1.1"/><polyline points="841.5,116.5 935.7,144 1029.8,194.8" fill="none" stroke="#c6c6c6" stroke-width="1.1"/><polyline points="841.5,123.9 935.7,152.3 1029.8,192.6" fill="none" stroke="#c6c6c6" stroke-width="1.1"/><polyline points="841.5,126.7 935.7,157.5 1029.8,200.9" fill="none" stroke="#c6c6c6" stroke-width="1.1"/><polyline points="841.5,128.5 935.7,179.9 1029.8,182.2" fill="none" stroke="#c6c6c6" stroke-width="1.1"/><polyline points="841.5,130.7 935.7,189 1029.8,184.4" fill="none" stroke="#c6c6c6" stroke-width="1.1"/><polyline points="841.5,219 935.7,155.9 1029.8,222" fill="none" stroke="#c6c6c6" stroke-width="1.1"/><polyline points="841.5,114.2 935.7,159.2 1029.8,218" fill="none" stroke="#c6c6c6" stroke-width="1.1"/><circle cx="841.5" cy="69.7" r="3" fill="none" stroke="#c6c6c6" stroke-width="1"/><circle cx="935.7" cy="95.8" r="3" fill="none" stroke="#c6c6c6" stroke-width="1"/><circle cx="1029.8" cy="225.1" r="3" fill="none" stroke="#c6c6c6" stroke-width="1"/><circle cx="841.5" cy="78" r="3" fill="none" stroke="#c6c6c6" stroke-width="1"/><circle cx="935.7" cy="71.2" r="3" fill="none" stroke="#c6c6c6" stroke-width="1"/><circle cx="1029.8" cy="222.9" r="3" fill="none" stroke="#c6c6c6" stroke-width="1"/><circle cx="841.5" cy="79.8" r="3" fill="none" stroke="#c6c6c6" stroke-width="1"/><circle cx="935.7" cy="119.3" r="3" fill="none" stroke="#c6c6c6" stroke-width="1"/><circle cx="1029.8" cy="238.1" r="3" fill="none" stroke="#c6c6c6" stroke-width="1"/><circle cx="841.5" cy="82.2" r="3" fill="none" stroke="#c6c6c6" stroke-width="1"/><circle cx="935.7" cy="136.7" r="3" fill="none" stroke="#c6c6c6" stroke-width="1"/><circle cx="1029.8" cy="216" r="3" fill="none" stroke="#c6c6c6" stroke-width="1"/><circle cx="841.5" cy="105.5" r="3" fill="none" stroke="#c6c6c6" stroke-width="1"/><circle cx="935.7" cy="86.6" r="3" fill="none" stroke="#c6c6c6" stroke-width="1"/><circle cx="1029.8" cy="220.7" r="3" fill="none" stroke="#c6c6c6" stroke-width="1"/><circle cx="841.5" cy="116.5" r="3" fill="none" stroke="#c6c6c6" stroke-width="1"/><circle cx="935.7" cy="71.2" r="3" fill="none" stroke="#c6c6c6" stroke-width="1"/><circle cx="1029.8" cy="218.8" r="3" fill="none" stroke="#c6c6c6" stroke-width="1"/><circle cx="841.5" cy="114.2" r="3" fill="none" stroke="#c6c6c6" stroke-width="1"/><circle cx="935.7" cy="93.9" r="3" fill="none" stroke="#c6c6c6" stroke-width="1"/><circle cx="1029.8" cy="209.2" r="3" fill="none" stroke="#c6c6c6" stroke-width="1"/><circle cx="841.5" cy="108.3" r="3" fill="none" stroke="#c6c6c6" stroke-width="1"/><circle cx="935.7" cy="97.3" r="3" fill="none" stroke="#c6c6c6" stroke-width="1"/><circle cx="1029.8" cy="200.9" r="3" fill="none" stroke="#c6c6c6" stroke-width="1"/><circle cx="841.5" cy="116.5" r="3" fill="none" stroke="#c6c6c6" stroke-width="1"/><circle cx="935.7" cy="144" r="3" fill="none" stroke="#c6c6c6" stroke-width="1"/><circle cx="1029.8" cy="194.8" r="3" fill="none" stroke="#c6c6c6" stroke-width="1"/><circle cx="841.5" cy="123.9" r="3" fill="none" stroke="#c6c6c6" stroke-width="1"/><circle cx="935.7" cy="152.3" r="3" fill="none" stroke="#c6c6c6" stroke-width="1"/><circle cx="1029.8" cy="192.6" r="3" fill="none" stroke="#c6c6c6" stroke-width="1"/><circle cx="841.5" cy="126.7" r="3" fill="none" stroke="#c6c6c6" stroke-width="1"/><circle cx="935.7" cy="157.5" r="3" fill="none" stroke="#c6c6c6" stroke-width="1"/><circle cx="1029.8" cy="200.9" r="3" fill="none" stroke="#c6c6c6" stroke-width="1"/><circle cx="841.5" cy="128.5" r="3" fill="none" stroke="#c6c6c6" stroke-width="1"/><circle cx="935.7" cy="179.9" r="3" fill="none" stroke="#c6c6c6" stroke-width="1"/><circle cx="1029.8" cy="182.2" r="3" fill="none" stroke="#c6c6c6" stroke-width="1"/><circle cx="841.5" cy="130.7" r="3" fill="none" stroke="#c6c6c6" stroke-width="1"/><circle cx="935.7" cy="189" r="3" fill="none" stroke="#c6c6c6" stroke-width="1"/><circle cx="1029.8" cy="184.4" r="3" fill="none" stroke="#c6c6c6" stroke-width="1"/><circle cx="841.5" cy="219" r="3" fill="none" stroke="#c6c6c6" stroke-width="1"/><circle cx="935.7" cy="155.9" r="3" fill="none" stroke="#c6c6c6" stroke-width="1"/><circle cx="1029.8" cy="222" r="3" fill="none" stroke="#c6c6c6" stroke-width="1"/><circle cx="841.5" cy="114.2" r="3" fill="none" stroke="#c6c6c6" stroke-width="1"/><circle cx="935.7" cy="159.2" r="3" fill="none" stroke="#c6c6c6" stroke-width="1"/><circle cx="1029.8" cy="218" r="3" fill="none" stroke="#c6c6c6" stroke-width="1"/>
</g>
<g id="pc">
<line x1="1116.7" y1="25.3" x2="1116.7" y2="429.9" stroke="#000" stroke-width="3.2"/>
<line x1="1115.1" y1="428.3" x2="1497" y2="428.3" stroke="#000" stroke-width="3.1"/>
<line x1="1115.1" y1="293.9" x2="1495.5" y2="293.9" stroke="#000" stroke-width="4"/>
<rect x="1133" y="154.1" width="74.1" height="139.8" fill="#fff" stroke="#8b0000" stroke-width="4.2"/>
<rect x="1223.9" y="291.9" width="78.5" height="15.1" fill="#8b0000"/>
<rect x="1318.9" y="293.9" width="74.4" height="25.3" fill="#fff" stroke="#8b0000" stroke-width="4.2"/>
<rect x="1409.7" y="225.5" width="78.8" height="70.4" fill="#8b0000"/>
<line x1="1116.8" y1="27.1" x2="1125" y2="27.1" stroke="#000" stroke-width="2.8"/>
<line x1="1116.8" y1="160.0" x2="1125" y2="160.0" stroke="#000" stroke-width="2.8"/>
<line x1="1170.3" y1="419.4" x2="1170.3" y2="428.3" stroke="#000" stroke-width="2.6"/>
<line x1="1263.1" y1="419.4" x2="1263.1" y2="428.3" stroke="#000" stroke-width="2.6"/>
<line x1="1355.9" y1="419.4" x2="1355.9" y2="428.3" stroke="#000" stroke-width="2.6"/>
<line x1="1448.7" y1="419.4" x2="1448.7" y2="428.3" stroke="#000" stroke-width="2.6"/>
<text x="1170.3" y="456" font-size="24.5" text-anchor="middle">SPN x</text>
<text x="1170.3" y="484.9" font-size="24.5" text-anchor="middle">V1</text>
<text x="1263.1" y="456" font-size="24.5" text-anchor="middle">PMN x</text>
<text x="1263.1" y="484.9" font-size="24.5" text-anchor="middle">V1</text>
<text x="1355.9" y="456" font-size="24.5" text-anchor="middle">SPN x</text>
<text x="1355.9" y="484.9" font-size="24.5" text-anchor="middle">Hipp</text>
<text x="1448.7" y="456" font-size="24.5" text-anchor="middle">PMN x</text>
<text x="1448.7" y="484.9" font-size="24.5" text-anchor="middle">Hipp</text>
<rect x="1216.4" y="33.1" width="186.7" height="4" fill="#000"/>
<path d="M1296.0,6.2V17.6M1290.5,8.5L1301.5,15.3M1290.5,15.3L1301.5,8.5" stroke="#000" stroke-width="1.5" fill="none"/><path d="M1309.3,6.2V17.6M1303.8,8.5L1314.8,15.3M1303.8,15.3L1314.8,8.5" stroke="#000" stroke-width="1.5" fill="none"/><path d="M1322.6,6.2V17.6M1317.1,8.5L1328.1,15.3M1317.1,15.3L1328.1,8.5" stroke="#000" stroke-width="1.5" fill="none"/>
<line x1="1170.3" y1="51.3" x2="1263.3" y2="352.8" stroke="#c6c6c6" stroke-width="1.1"/><line x1="1170.3" y1="101.6" x2="1263.3" y2="343.8" stroke="#c6c6c6" stroke-width="1.1"/><line x1="1170.3" y1="107.1" x2="1263.3" y2="349.2" stroke="#c6c6c6" stroke-width="1.1"/><line x1="1170.3" y1="109.4" x2="1263.3" y2="338.4" stroke="#c6c6c6" stroke-width="1.1"/><line x1="1170.3" y1="131.8" x2="1263.3" y2="332.5" stroke="#c6c6c6" stroke-width="1.1"/><line x1="1170.3" y1="137.3" x2="1263.3" y2="327.2" stroke="#c6c6c6" stroke-width="1.1"/><line x1="1170.3" y1="165.4" x2="1263.3" y2="300.3" stroke="#c6c6c6" stroke-width="1.1"/><line x1="1170.3" y1="182" x2="1263.3" y2="346.5" stroke="#c6c6c6" stroke-width="1.1"/><line x1="1170.3" y1="206.2" x2="1263.3" y2="283.3" stroke="#c6c6c6" stroke-width="1.1"/><line x1="1170.3" y1="234.5" x2="1263.3" y2="263.1" stroke="#c6c6c6" stroke-width="1.1"/><line x1="1170.3" y1="244.8" x2="1263.3" y2="163.5" stroke="#c6c6c6" stroke-width="1.1"/><line x1="1170.3" y1="256.5" x2="1263.3" y2="215.5" stroke="#c6c6c6" stroke-width="1.1"/><line x1="1356" y1="259.2" x2="1448.8" y2="260.1" stroke="#c6c6c6" stroke-width="1.1"/><line x1="1356" y1="294.8" x2="1448.8" y2="198" stroke="#c6c6c6" stroke-width="1.1"/><line x1="1356" y1="301.2" x2="1448.8" y2="205.7" stroke="#c6c6c6" stroke-width="1.1"/><line x1="1356" y1="309.8" x2="1448.8" y2="269.9" stroke="#c6c6c6" stroke-width="1.1"/><line x1="1356" y1="320.5" x2="1448.8" y2="210" stroke="#c6c6c6" stroke-width="1.1"/><line x1="1356" y1="325.6" x2="1448.8" y2="213.4" stroke="#c6c6c6" stroke-width="1.1"/><line x1="1356" y1="329" x2="1448.8" y2="218.5" stroke="#c6c6c6" stroke-width="1.1"/><line x1="1356" y1="332" x2="1448.8" y2="225" stroke="#c6c6c6" stroke-width="1.1"/><line x1="1356" y1="333.9" x2="1448.8" y2="234.4" stroke="#c6c6c6" stroke-width="1.1"/><line x1="1356" y1="340.6" x2="1448.8" y2="241.2" stroke="#c6c6c6" stroke-width="1.1"/><line x1="1356" y1="370.6" x2="1448.8" y2="205" stroke="#c6c6c6" stroke-width="1.1"/><line x1="1356" y1="310" x2="1448.8" y2="247.7" stroke="#c6c6c6" stroke-width="1.1"/><line x1="1356" y1="327" x2="1448.8" y2="216" stroke="#c6c6c6" stroke-width="1.1"/><line x1="1356" y1="331" x2="1448.8" y2="221.5" stroke="#c6c6c6" stroke-width="1.1"/><circle cx="1170.3" cy="51.3" r="3" fill="none" stroke="#c6c6c6" stroke-width="1"/><circle cx="1263.3" cy="352.8" r="3" fill="none" stroke="#c6c6c6" stroke-width="1"/><circle cx="1170.3" cy="64.2" r="3" fill="none" stroke="#c6c6c6" stroke-width="1"/><circle cx="1263.3" cy="355.5" r="3" fill="none" stroke="#c6c6c6" stroke-width="1"/><circle cx="1170.3" cy="101.6" r="3" fill="none" stroke="#c6c6c6" stroke-width="1"/><circle cx="1263.3" cy="343.8" r="3" fill="none" stroke="#c6c6c6" stroke-width="1"/><circle cx="1170.3" cy="107.1" r="3" fill="none" stroke="#c6c6c6" stroke-width="1"/><circle cx="1263.3" cy="349.2" r="3" fill="none" stroke="#c6c6c6" stroke-width="1"/><circle cx="1170.3" cy="109.4" r="3" fill="none" stroke="#c6c6c6" stroke-width="1"/><circle cx="1263.3" cy="338.4" r="3" fill="none" stroke="#c6c6c6" stroke-width="1"/><circle cx="1170.3" cy="131.8" r="3" fill="none" stroke="#c6c6c6" stroke-width="1"/><circle cx="1263.3" cy="332.5" r="3" fill="none" stroke="#c6c6c6" stroke-width="1"/><circle cx="1170.3" cy="137.3" r="3" fill="none" stroke="#c6c6c6" stroke-width="1"/><circle cx="1263.3" cy="327.2" r="3" fill="none" stroke="#c6c6c6" stroke-width="1"/><circle cx="1170.3" cy="165.4" r="3" fill="none" stroke="#c6c6c6" stroke-width="1"/><circle cx="1263.3" cy="300.3" r="3" fill="none" stroke="#c6c6c6" stroke-width="1"/><circle cx="1170.3" cy="182" r="3" fill="none" stroke="#c6c6c6" stroke-width="1"/><circle cx="1263.3" cy="346.5" r="3" fill="none" stroke="#c6c6c6" stroke-width="1"/><circle cx="1170.3" cy="206.2" r="3" fill="none" stroke="#c6c6c6" stroke-width="1"/><circle cx="1263.3" cy="283.3" r="3" fill="none" stroke="#c6c6c6" stroke-width="1"/><circle cx="1170.3" cy="234.5" r="3" fill="none" stroke="#c6c6c6" stroke-width="1"/><circle cx="1263.3" cy="263.1" r="3" fill="none" stroke="#c6c6c6" stroke-width="1"/><circle cx="1170.3" cy="244.8" r="3" fill="none" stroke="#c6c6c6" stroke-width="1"/><circle cx="1263.3" cy="163.5" r="3" fill="none" stroke="#c6c6c6" stroke-width="1"/><circle cx="1170.3" cy="256.5" r="3" fill="none" stroke="#c6c6c6" stroke-width="1"/><circle cx="1263.3" cy="215.5" r="3" fill="none" stroke="#c6c6c6" stroke-width="1"/><circle cx="1356" cy="259.2" r="3" fill="none" stroke="#c6c6c6" stroke-width="1"/><circle cx="1448.8" cy="260.1" r="3" fill="none" stroke="#c6c6c6" stroke-width="1"/><circle cx="1356" cy="294.8" r="3" fill="none" stroke="#c6c6c6" stroke-width="1"/><circle cx="1448.8" cy="198" r="3" fill="none" stroke="#c6c6c6" stroke-width="1"/><circle cx="1356" cy="301.2" r="3" fill="none" stroke="#c6c6c6" stroke-width="1"/><circle cx="1448.8" cy="205.7" r="3" fill="none" stroke="#c6c6c6" stroke-width="1"/><circle cx="1356" cy="309.8" r="3" fill="none" stroke="#c6c6c6" stroke-width="1"/><circle cx="1448.8" cy="269.9" r="3" fill="none" stroke="#c6c6c6" stroke-width="1"/><circle cx="1356" cy="320.5" r="3" fill="none" stroke="#c6c6c6" stroke-width="1"/><circle cx="1448.8" cy="210" r="3" fill="none" stroke="#c6c6c6" stroke-width="1"/><circle cx="1356" cy="325.6" r="3" fill="none" stroke="#c6c6c6" stroke-width="1"/><circle cx="1448.8" cy="213.4" r="3" fill="none" stroke="#c6c6c6" stroke-width="1"/><circle cx="1356" cy="329" r="3" fill="none" stroke="#c6c6c6" stroke-width="1"/><circle cx="1448.8" cy="218.5" r="3" fill="none" stroke="#c6c6c6" stroke-width="1"/><circle cx="1356" cy="332" r="3" fill="none" stroke="#c6c6c6" stroke-width="1"/><circle cx="1448.8" cy="225" r="3" fill="none" stroke="#c6c6c6" stroke-width="1"/><circle cx="1356" cy="333.9" r="3" fill="none" stroke="#c6c6c6" stroke-width="1"/><circle cx="1448.8" cy="234.4" r="3" fill="none" stroke="#c6c6c6" stroke-width="1"/><circle cx="1356" cy="340.6" r="3" fill="none" stroke="#c6c6c6" stroke-width="1"/><circle cx="1448.8" cy="241.2" r="3" fill="none" stroke="#c6c6c6" stroke-width="1"/><circle cx="1356" cy="370.6" r="3" fill="none" stroke="#c6c6c6" stroke-width="1"/><circle cx="1448.8" cy="205" r="3" fill="none" stroke="#c6c6c6" stroke-width="1"/><circle cx="1356" cy="310" r="3" fill="none" stroke="#c6c6c6" stroke-width="1"/><circle cx="1448.8" cy="247.7" r="3" fill="none" stroke="#c6c6c6" stroke-width="1"/><circle cx="1356" cy="327" r="3" fill="none" stroke="#c6c6c6" stroke-width="1"/><circle cx="1448.8" cy="216" r="3" fill="none" stroke="#c6c6c6" stroke-width="1"/><circle cx="1356" cy="331" r="3" fill="none" stroke="#c6c6c6" stroke-width="1"/><circle cx="1448.8" cy="221.5" r="3" fill="none" stroke="#c6c6c6" stroke-width="1"/>
</g>
</svg></body></html>
